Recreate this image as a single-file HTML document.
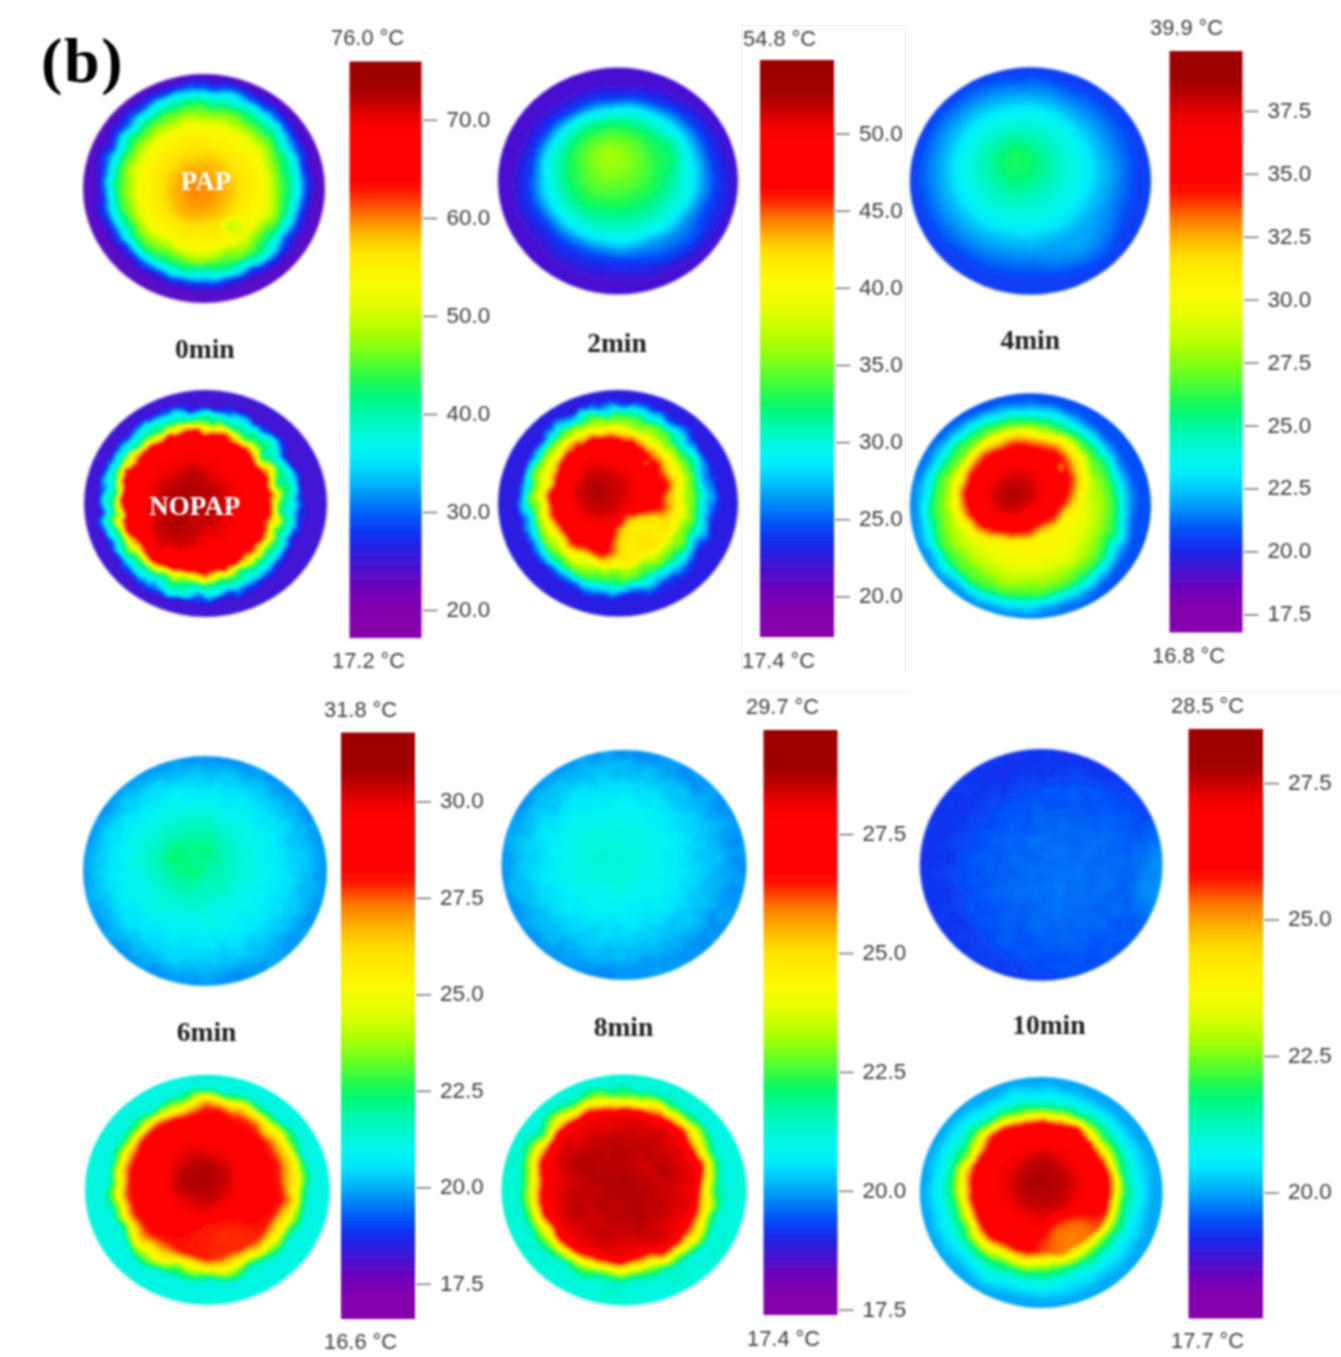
<!DOCTYPE html>
<html lang="en"><head><meta charset="utf-8"><title>Figure (b) thermal images</title>
<style>
html,body{margin:0;padding:0;background:#fff;}
body{width:1341px;height:1357px;overflow:hidden;}
svg{display:block;}
.tl{font-family:"Liberation Sans",sans-serif;font-size:22px;fill:#3c3c3c;}
.tk{stroke:#7a7a7a;stroke-width:1.6;}
.lb{font-family:"Liberation Serif",serif;font-weight:bold;font-size:64px;fill:#000;letter-spacing:1.7px;}
.tm{font-family:"Liberation Serif",serif;font-weight:bold;font-size:27.5px;fill:#222;}
.wl{font-family:"Liberation Serif",serif;font-weight:bold;font-size:27px;fill:#fff;}
</style></head><body>
<svg width="1341" height="1357" viewBox="0 0 1341 1357">
<defs>
<filter id="soft2" filterUnits="userSpaceOnUse" x="0" y="0" width="1341" height="1357"><feGaussianBlur stdDeviation="1.4"/></filter>
<filter id="soft" filterUnits="userSpaceOnUse" x="0" y="0" width="1341" height="1357"><feGaussianBlur stdDeviation="1.0"/></filter>
<linearGradient id="cb0" x1="0" y1="1" x2="0" y2="0"><stop offset="0.0000" stop-color="#8700ab"/><stop offset="0.0133" stop-color="#8600ab"/><stop offset="0.0267" stop-color="#8400ad"/><stop offset="0.0400" stop-color="#8200ae"/><stop offset="0.0534" stop-color="#7f00b0"/><stop offset="0.0667" stop-color="#7a00b3"/><stop offset="0.0801" stop-color="#7301b7"/><stop offset="0.0934" stop-color="#6804bd"/><stop offset="0.1067" stop-color="#5b09c6"/><stop offset="0.1201" stop-color="#4d0fce"/><stop offset="0.1334" stop-color="#3f15d6"/><stop offset="0.1468" stop-color="#311cde"/><stop offset="0.1601" stop-color="#2323e6"/><stop offset="0.1735" stop-color="#172ced"/><stop offset="0.1868" stop-color="#0d39f4"/><stop offset="0.1997" stop-color="#0749f7"/><stop offset="0.2125" stop-color="#035bf8"/><stop offset="0.2252" stop-color="#0170f8"/><stop offset="0.2380" stop-color="#0085f8"/><stop offset="0.2507" stop-color="#0099f8"/><stop offset="0.2635" stop-color="#00aef9"/><stop offset="0.2762" stop-color="#00c0fa"/><stop offset="0.2890" stop-color="#00d2fb"/><stop offset="0.3017" stop-color="#00e2fc"/><stop offset="0.3145" stop-color="#00eef9"/><stop offset="0.3280" stop-color="#00f4f2"/><stop offset="0.3415" stop-color="#00f6e6"/><stop offset="0.3550" stop-color="#00f7d9"/><stop offset="0.3684" stop-color="#00f8ca"/><stop offset="0.3819" stop-color="#00f8b9"/><stop offset="0.3954" stop-color="#00f8a5"/><stop offset="0.4089" stop-color="#00f88f"/><stop offset="0.4224" stop-color="#04f878"/><stop offset="0.4353" stop-color="#0ef964"/><stop offset="0.4473" stop-color="#20fb52"/><stop offset="0.4594" stop-color="#36fd43"/><stop offset="0.4714" stop-color="#4bfe35"/><stop offset="0.4834" stop-color="#60ff29"/><stop offset="0.4954" stop-color="#75ff1d"/><stop offset="0.5074" stop-color="#89ff12"/><stop offset="0.5194" stop-color="#9cff09"/><stop offset="0.5315" stop-color="#adff03"/><stop offset="0.5435" stop-color="#bcff00"/><stop offset="0.5555" stop-color="#caff00"/><stop offset="0.5675" stop-color="#d7ff00"/><stop offset="0.5795" stop-color="#e3fe00"/><stop offset="0.5915" stop-color="#ecfd00"/><stop offset="0.6036" stop-color="#f2fc00"/><stop offset="0.6156" stop-color="#f8fa00"/><stop offset="0.6276" stop-color="#fcf700"/><stop offset="0.6395" stop-color="#fef300"/><stop offset="0.6514" stop-color="#ffed00"/><stop offset="0.6633" stop-color="#ffe600"/><stop offset="0.6752" stop-color="#ffdc00"/><stop offset="0.6871" stop-color="#ffcd00"/><stop offset="0.6990" stop-color="#ffb900"/><stop offset="0.7110" stop-color="#ffa300"/><stop offset="0.7229" stop-color="#ff8c00"/><stop offset="0.7347" stop-color="#ff7400"/><stop offset="0.7466" stop-color="#ff5900"/><stop offset="0.7584" stop-color="#ff3e00"/><stop offset="0.7703" stop-color="#ff2400"/><stop offset="0.7822" stop-color="#ff0f00"/><stop offset="0.7947" stop-color="#ff0400"/><stop offset="0.8074" stop-color="#ff0000"/><stop offset="0.8202" stop-color="#ff0000"/><stop offset="0.8329" stop-color="#ff0000"/><stop offset="0.8457" stop-color="#ff0000"/><stop offset="0.8584" stop-color="#ff0000"/><stop offset="0.8712" stop-color="#fe0000"/><stop offset="0.8839" stop-color="#fb0000"/><stop offset="0.8964" stop-color="#f10000"/><stop offset="0.9087" stop-color="#e10000"/><stop offset="0.9210" stop-color="#ce0000"/><stop offset="0.9333" stop-color="#bc0000"/><stop offset="0.9456" stop-color="#ac0000"/><stop offset="0.9573" stop-color="#a20000"/><stop offset="0.9680" stop-color="#9f0000"/><stop offset="0.9786" stop-color="#9e0000"/><stop offset="0.9893" stop-color="#9e0000"/><stop offset="1.0000" stop-color="#9e0000"/></linearGradient>
<linearGradient id="cb1" x1="0" y1="1" x2="0" y2="0"><stop offset="0.0000" stop-color="#8700ab"/><stop offset="0.0126" stop-color="#8600ab"/><stop offset="0.0251" stop-color="#8400ad"/><stop offset="0.0377" stop-color="#8200ae"/><stop offset="0.0503" stop-color="#7f00b0"/><stop offset="0.0629" stop-color="#7a00b3"/><stop offset="0.0754" stop-color="#7301b7"/><stop offset="0.0880" stop-color="#6804bd"/><stop offset="0.1006" stop-color="#5b09c6"/><stop offset="0.1131" stop-color="#4d0fce"/><stop offset="0.1257" stop-color="#3f15d6"/><stop offset="0.1383" stop-color="#311cde"/><stop offset="0.1508" stop-color="#2323e6"/><stop offset="0.1634" stop-color="#172ced"/><stop offset="0.1760" stop-color="#0d39f4"/><stop offset="0.1889" stop-color="#0749f7"/><stop offset="0.2018" stop-color="#035bf8"/><stop offset="0.2148" stop-color="#0170f8"/><stop offset="0.2278" stop-color="#0085f8"/><stop offset="0.2407" stop-color="#0099f8"/><stop offset="0.2537" stop-color="#00aef9"/><stop offset="0.2667" stop-color="#00c0fa"/><stop offset="0.2797" stop-color="#00d2fb"/><stop offset="0.2926" stop-color="#00e2fc"/><stop offset="0.3056" stop-color="#00eef9"/><stop offset="0.3165" stop-color="#00f4f2"/><stop offset="0.3275" stop-color="#00f6e6"/><stop offset="0.3384" stop-color="#00f7d9"/><stop offset="0.3493" stop-color="#00f8ca"/><stop offset="0.3602" stop-color="#00f8b9"/><stop offset="0.3712" stop-color="#00f8a5"/><stop offset="0.3821" stop-color="#00f88f"/><stop offset="0.3930" stop-color="#04f878"/><stop offset="0.4048" stop-color="#0ef964"/><stop offset="0.4183" stop-color="#20fb52"/><stop offset="0.4318" stop-color="#36fd43"/><stop offset="0.4452" stop-color="#4bfe35"/><stop offset="0.4587" stop-color="#60ff29"/><stop offset="0.4722" stop-color="#75ff1d"/><stop offset="0.4856" stop-color="#89ff12"/><stop offset="0.4991" stop-color="#9cff09"/><stop offset="0.5126" stop-color="#adff03"/><stop offset="0.5260" stop-color="#bcff00"/><stop offset="0.5395" stop-color="#caff00"/><stop offset="0.5530" stop-color="#d7ff00"/><stop offset="0.5664" stop-color="#e3fe00"/><stop offset="0.5799" stop-color="#ecfd00"/><stop offset="0.5934" stop-color="#f2fc00"/><stop offset="0.6068" stop-color="#f8fa00"/><stop offset="0.6203" stop-color="#fcf700"/><stop offset="0.6324" stop-color="#fef300"/><stop offset="0.6442" stop-color="#ffed00"/><stop offset="0.6560" stop-color="#ffe600"/><stop offset="0.6678" stop-color="#ffdc00"/><stop offset="0.6796" stop-color="#ffcd00"/><stop offset="0.6914" stop-color="#ffb900"/><stop offset="0.7031" stop-color="#ffa300"/><stop offset="0.7149" stop-color="#ff8c00"/><stop offset="0.7261" stop-color="#ff7400"/><stop offset="0.7365" stop-color="#ff5900"/><stop offset="0.7468" stop-color="#ff3e00"/><stop offset="0.7572" stop-color="#ff2400"/><stop offset="0.7675" stop-color="#ff0f00"/><stop offset="0.7800" stop-color="#ff0400"/><stop offset="0.7931" stop-color="#ff0000"/><stop offset="0.8062" stop-color="#ff0000"/><stop offset="0.8193" stop-color="#ff0000"/><stop offset="0.8324" stop-color="#ff0000"/><stop offset="0.8455" stop-color="#ff0000"/><stop offset="0.8586" stop-color="#fe0000"/><stop offset="0.8718" stop-color="#fb0000"/><stop offset="0.8843" stop-color="#f10000"/><stop offset="0.8964" stop-color="#e10000"/><stop offset="0.9085" stop-color="#ce0000"/><stop offset="0.9206" stop-color="#bc0000"/><stop offset="0.9327" stop-color="#ac0000"/><stop offset="0.9455" stop-color="#a20000"/><stop offset="0.9591" stop-color="#9f0000"/><stop offset="0.9727" stop-color="#9e0000"/><stop offset="0.9864" stop-color="#9e0000"/><stop offset="1.0000" stop-color="#9e0000"/></linearGradient>
<linearGradient id="cb2" x1="0" y1="1" x2="0" y2="0"><stop offset="0.0000" stop-color="#8700ab"/><stop offset="0.0113" stop-color="#8600ab"/><stop offset="0.0226" stop-color="#8400ad"/><stop offset="0.0339" stop-color="#8200ae"/><stop offset="0.0452" stop-color="#7f00b0"/><stop offset="0.0565" stop-color="#7a00b3"/><stop offset="0.0678" stop-color="#7301b7"/><stop offset="0.0791" stop-color="#6804bd"/><stop offset="0.0904" stop-color="#5b09c6"/><stop offset="0.1018" stop-color="#4d0fce"/><stop offset="0.1131" stop-color="#3f15d6"/><stop offset="0.1244" stop-color="#311cde"/><stop offset="0.1357" stop-color="#2323e6"/><stop offset="0.1470" stop-color="#172ced"/><stop offset="0.1583" stop-color="#0d39f4"/><stop offset="0.1700" stop-color="#0749f7"/><stop offset="0.1819" stop-color="#035bf8"/><stop offset="0.1938" stop-color="#0170f8"/><stop offset="0.2057" stop-color="#0085f8"/><stop offset="0.2176" stop-color="#0099f8"/><stop offset="0.2295" stop-color="#00aef9"/><stop offset="0.2413" stop-color="#00c0fa"/><stop offset="0.2532" stop-color="#00d2fb"/><stop offset="0.2651" stop-color="#00e2fc"/><stop offset="0.2770" stop-color="#00eef9"/><stop offset="0.2894" stop-color="#00f4f2"/><stop offset="0.3018" stop-color="#00f6e6"/><stop offset="0.3142" stop-color="#00f7d9"/><stop offset="0.3265" stop-color="#00f8ca"/><stop offset="0.3389" stop-color="#00f8b9"/><stop offset="0.3513" stop-color="#00f8a5"/><stop offset="0.3637" stop-color="#00f88f"/><stop offset="0.3761" stop-color="#04f878"/><stop offset="0.3886" stop-color="#0ef964"/><stop offset="0.4013" stop-color="#20fb52"/><stop offset="0.4141" stop-color="#36fd43"/><stop offset="0.4268" stop-color="#4bfe35"/><stop offset="0.4396" stop-color="#60ff29"/><stop offset="0.4523" stop-color="#75ff1d"/><stop offset="0.4650" stop-color="#89ff12"/><stop offset="0.4778" stop-color="#9cff09"/><stop offset="0.4905" stop-color="#adff03"/><stop offset="0.5033" stop-color="#bcff00"/><stop offset="0.5160" stop-color="#caff00"/><stop offset="0.5287" stop-color="#d7ff00"/><stop offset="0.5415" stop-color="#e3fe00"/><stop offset="0.5542" stop-color="#ecfd00"/><stop offset="0.5670" stop-color="#f2fc00"/><stop offset="0.5797" stop-color="#f8fa00"/><stop offset="0.5925" stop-color="#fcf700"/><stop offset="0.6057" stop-color="#fef300"/><stop offset="0.6190" stop-color="#ffed00"/><stop offset="0.6323" stop-color="#ffe600"/><stop offset="0.6457" stop-color="#ffdc00"/><stop offset="0.6590" stop-color="#ffcd00"/><stop offset="0.6723" stop-color="#ffb900"/><stop offset="0.6857" stop-color="#ffa300"/><stop offset="0.6990" stop-color="#ff8c00"/><stop offset="0.7119" stop-color="#ff7400"/><stop offset="0.7242" stop-color="#ff5900"/><stop offset="0.7365" stop-color="#ff3e00"/><stop offset="0.7488" stop-color="#ff2400"/><stop offset="0.7611" stop-color="#ff0f00"/><stop offset="0.7741" stop-color="#ff0400"/><stop offset="0.7873" stop-color="#ff0000"/><stop offset="0.8005" stop-color="#ff0000"/><stop offset="0.8138" stop-color="#ff0000"/><stop offset="0.8270" stop-color="#ff0000"/><stop offset="0.8402" stop-color="#ff0000"/><stop offset="0.8535" stop-color="#fe0000"/><stop offset="0.8667" stop-color="#fb0000"/><stop offset="0.8805" stop-color="#f10000"/><stop offset="0.8948" stop-color="#e10000"/><stop offset="0.9090" stop-color="#ce0000"/><stop offset="0.9232" stop-color="#bc0000"/><stop offset="0.9375" stop-color="#ac0000"/><stop offset="0.9509" stop-color="#a20000"/><stop offset="0.9632" stop-color="#9f0000"/><stop offset="0.9755" stop-color="#9e0000"/><stop offset="0.9877" stop-color="#9e0000"/><stop offset="1.0000" stop-color="#9e0000"/></linearGradient>
<linearGradient id="cb3" x1="0" y1="1" x2="0" y2="0"><stop offset="0.0000" stop-color="#8700ab"/><stop offset="0.0109" stop-color="#8600ab"/><stop offset="0.0218" stop-color="#8400ad"/><stop offset="0.0327" stop-color="#8200ae"/><stop offset="0.0435" stop-color="#7f00b0"/><stop offset="0.0544" stop-color="#7a00b3"/><stop offset="0.0653" stop-color="#7301b7"/><stop offset="0.0762" stop-color="#6804bd"/><stop offset="0.0871" stop-color="#5b09c6"/><stop offset="0.0980" stop-color="#4d0fce"/><stop offset="0.1088" stop-color="#3f15d6"/><stop offset="0.1197" stop-color="#311cde"/><stop offset="0.1306" stop-color="#2323e6"/><stop offset="0.1415" stop-color="#172ced"/><stop offset="0.1524" stop-color="#0d39f4"/><stop offset="0.1640" stop-color="#0749f7"/><stop offset="0.1757" stop-color="#035bf8"/><stop offset="0.1875" stop-color="#0170f8"/><stop offset="0.1993" stop-color="#0085f8"/><stop offset="0.2111" stop-color="#0099f8"/><stop offset="0.2229" stop-color="#00aef9"/><stop offset="0.2347" stop-color="#00c0fa"/><stop offset="0.2464" stop-color="#00d2fb"/><stop offset="0.2582" stop-color="#00e2fc"/><stop offset="0.2700" stop-color="#00eef9"/><stop offset="0.2833" stop-color="#00f4f2"/><stop offset="0.2966" stop-color="#00f6e6"/><stop offset="0.3099" stop-color="#00f7d9"/><stop offset="0.3232" stop-color="#00f8ca"/><stop offset="0.3366" stop-color="#00f8b9"/><stop offset="0.3499" stop-color="#00f8a5"/><stop offset="0.3632" stop-color="#00f88f"/><stop offset="0.3765" stop-color="#04f878"/><stop offset="0.3891" stop-color="#0ef964"/><stop offset="0.4004" stop-color="#20fb52"/><stop offset="0.4118" stop-color="#36fd43"/><stop offset="0.4231" stop-color="#4bfe35"/><stop offset="0.4345" stop-color="#60ff29"/><stop offset="0.4459" stop-color="#75ff1d"/><stop offset="0.4572" stop-color="#89ff12"/><stop offset="0.4686" stop-color="#9cff09"/><stop offset="0.4799" stop-color="#adff03"/><stop offset="0.4913" stop-color="#bcff00"/><stop offset="0.5026" stop-color="#caff00"/><stop offset="0.5140" stop-color="#d7ff00"/><stop offset="0.5253" stop-color="#e3fe00"/><stop offset="0.5367" stop-color="#ecfd00"/><stop offset="0.5480" stop-color="#f2fc00"/><stop offset="0.5594" stop-color="#f8fa00"/><stop offset="0.5707" stop-color="#fcf700"/><stop offset="0.5855" stop-color="#fef300"/><stop offset="0.6011" stop-color="#ffed00"/><stop offset="0.6167" stop-color="#ffe600"/><stop offset="0.6323" stop-color="#ffdc00"/><stop offset="0.6479" stop-color="#ffcd00"/><stop offset="0.6635" stop-color="#ffb900"/><stop offset="0.6790" stop-color="#ffa300"/><stop offset="0.6946" stop-color="#ff8c00"/><stop offset="0.7082" stop-color="#ff7400"/><stop offset="0.7188" stop-color="#ff5900"/><stop offset="0.7293" stop-color="#ff3e00"/><stop offset="0.7399" stop-color="#ff2400"/><stop offset="0.7505" stop-color="#ff0f00"/><stop offset="0.7636" stop-color="#ff0400"/><stop offset="0.7776" stop-color="#ff0000"/><stop offset="0.7916" stop-color="#ff0000"/><stop offset="0.8055" stop-color="#ff0000"/><stop offset="0.8195" stop-color="#ff0000"/><stop offset="0.8335" stop-color="#ff0000"/><stop offset="0.8474" stop-color="#fe0000"/><stop offset="0.8614" stop-color="#fb0000"/><stop offset="0.8746" stop-color="#f10000"/><stop offset="0.8873" stop-color="#e10000"/><stop offset="0.9000" stop-color="#ce0000"/><stop offset="0.9127" stop-color="#bc0000"/><stop offset="0.9254" stop-color="#ac0000"/><stop offset="0.9391" stop-color="#a20000"/><stop offset="0.9543" stop-color="#9f0000"/><stop offset="0.9695" stop-color="#9e0000"/><stop offset="0.9848" stop-color="#9e0000"/><stop offset="1.0000" stop-color="#9e0000"/></linearGradient>
<linearGradient id="cb4" x1="0" y1="1" x2="0" y2="0"><stop offset="0.0000" stop-color="#8700ab"/><stop offset="0.0105" stop-color="#8600ab"/><stop offset="0.0211" stop-color="#8400ad"/><stop offset="0.0316" stop-color="#8200ae"/><stop offset="0.0421" stop-color="#7f00b0"/><stop offset="0.0527" stop-color="#7a00b3"/><stop offset="0.0632" stop-color="#7301b7"/><stop offset="0.0737" stop-color="#6804bd"/><stop offset="0.0843" stop-color="#5b09c6"/><stop offset="0.0948" stop-color="#4d0fce"/><stop offset="0.1053" stop-color="#3f15d6"/><stop offset="0.1159" stop-color="#311cde"/><stop offset="0.1264" stop-color="#2323e6"/><stop offset="0.1369" stop-color="#172ced"/><stop offset="0.1475" stop-color="#0d39f4"/><stop offset="0.1590" stop-color="#0749f7"/><stop offset="0.1707" stop-color="#035bf8"/><stop offset="0.1825" stop-color="#0170f8"/><stop offset="0.1943" stop-color="#0085f8"/><stop offset="0.2061" stop-color="#0099f8"/><stop offset="0.2179" stop-color="#00aef9"/><stop offset="0.2297" stop-color="#00c0fa"/><stop offset="0.2414" stop-color="#00d2fb"/><stop offset="0.2532" stop-color="#00e2fc"/><stop offset="0.2650" stop-color="#00eef9"/><stop offset="0.2792" stop-color="#00f4f2"/><stop offset="0.2935" stop-color="#00f6e6"/><stop offset="0.3077" stop-color="#00f7d9"/><stop offset="0.3219" stop-color="#00f8ca"/><stop offset="0.3362" stop-color="#00f8b9"/><stop offset="0.3504" stop-color="#00f8a5"/><stop offset="0.3647" stop-color="#00f88f"/><stop offset="0.3789" stop-color="#04f878"/><stop offset="0.3919" stop-color="#0ef964"/><stop offset="0.4028" stop-color="#20fb52"/><stop offset="0.4137" stop-color="#36fd43"/><stop offset="0.4245" stop-color="#4bfe35"/><stop offset="0.4354" stop-color="#60ff29"/><stop offset="0.4463" stop-color="#75ff1d"/><stop offset="0.4571" stop-color="#89ff12"/><stop offset="0.4680" stop-color="#9cff09"/><stop offset="0.4789" stop-color="#adff03"/><stop offset="0.4897" stop-color="#bcff00"/><stop offset="0.5006" stop-color="#caff00"/><stop offset="0.5115" stop-color="#d7ff00"/><stop offset="0.5223" stop-color="#e3fe00"/><stop offset="0.5332" stop-color="#ecfd00"/><stop offset="0.5441" stop-color="#f2fc00"/><stop offset="0.5550" stop-color="#f8fa00"/><stop offset="0.5658" stop-color="#fcf700"/><stop offset="0.5801" stop-color="#fef300"/><stop offset="0.5952" stop-color="#ffed00"/><stop offset="0.6103" stop-color="#ffe600"/><stop offset="0.6255" stop-color="#ffdc00"/><stop offset="0.6406" stop-color="#ffcd00"/><stop offset="0.6557" stop-color="#ffb900"/><stop offset="0.6708" stop-color="#ffa300"/><stop offset="0.6859" stop-color="#ff8c00"/><stop offset="0.6992" stop-color="#ff7400"/><stop offset="0.7098" stop-color="#ff5900"/><stop offset="0.7203" stop-color="#ff3e00"/><stop offset="0.7309" stop-color="#ff2400"/><stop offset="0.7415" stop-color="#ff0f00"/><stop offset="0.7551" stop-color="#ff0400"/><stop offset="0.7697" stop-color="#ff0000"/><stop offset="0.7843" stop-color="#ff0000"/><stop offset="0.7988" stop-color="#ff0000"/><stop offset="0.8134" stop-color="#ff0000"/><stop offset="0.8280" stop-color="#ff0000"/><stop offset="0.8426" stop-color="#fe0000"/><stop offset="0.8572" stop-color="#fb0000"/><stop offset="0.8706" stop-color="#f10000"/><stop offset="0.8833" stop-color="#e10000"/><stop offset="0.8960" stop-color="#ce0000"/><stop offset="0.9087" stop-color="#bc0000"/><stop offset="0.9214" stop-color="#ac0000"/><stop offset="0.9355" stop-color="#a20000"/><stop offset="0.9516" stop-color="#9f0000"/><stop offset="0.9677" stop-color="#9e0000"/><stop offset="0.9839" stop-color="#9e0000"/><stop offset="1.0000" stop-color="#9e0000"/></linearGradient>
<linearGradient id="cb5" x1="0" y1="1" x2="0" y2="0"><stop offset="0.0000" stop-color="#8700ab"/><stop offset="0.0106" stop-color="#8600ab"/><stop offset="0.0212" stop-color="#8400ad"/><stop offset="0.0318" stop-color="#8200ae"/><stop offset="0.0424" stop-color="#7f00b0"/><stop offset="0.0530" stop-color="#7a00b3"/><stop offset="0.0636" stop-color="#7301b7"/><stop offset="0.0742" stop-color="#6804bd"/><stop offset="0.0848" stop-color="#5b09c6"/><stop offset="0.0954" stop-color="#4d0fce"/><stop offset="0.1060" stop-color="#3f15d6"/><stop offset="0.1166" stop-color="#311cde"/><stop offset="0.1272" stop-color="#2323e6"/><stop offset="0.1379" stop-color="#172ced"/><stop offset="0.1485" stop-color="#0d39f4"/><stop offset="0.1599" stop-color="#0749f7"/><stop offset="0.1716" stop-color="#035bf8"/><stop offset="0.1832" stop-color="#0170f8"/><stop offset="0.1949" stop-color="#0085f8"/><stop offset="0.2066" stop-color="#0099f8"/><stop offset="0.2183" stop-color="#00aef9"/><stop offset="0.2300" stop-color="#00c0fa"/><stop offset="0.2416" stop-color="#00d2fb"/><stop offset="0.2533" stop-color="#00e2fc"/><stop offset="0.2650" stop-color="#00eef9"/><stop offset="0.2787" stop-color="#00f4f2"/><stop offset="0.2923" stop-color="#00f6e6"/><stop offset="0.3060" stop-color="#00f7d9"/><stop offset="0.3196" stop-color="#00f8ca"/><stop offset="0.3333" stop-color="#00f8b9"/><stop offset="0.3469" stop-color="#00f8a5"/><stop offset="0.3606" stop-color="#00f88f"/><stop offset="0.3743" stop-color="#04f878"/><stop offset="0.3870" stop-color="#0ef964"/><stop offset="0.3980" stop-color="#20fb52"/><stop offset="0.4091" stop-color="#36fd43"/><stop offset="0.4201" stop-color="#4bfe35"/><stop offset="0.4312" stop-color="#60ff29"/><stop offset="0.4422" stop-color="#75ff1d"/><stop offset="0.4533" stop-color="#89ff12"/><stop offset="0.4643" stop-color="#9cff09"/><stop offset="0.4754" stop-color="#adff03"/><stop offset="0.4864" stop-color="#bcff00"/><stop offset="0.4975" stop-color="#caff00"/><stop offset="0.5085" stop-color="#d7ff00"/><stop offset="0.5196" stop-color="#e3fe00"/><stop offset="0.5306" stop-color="#ecfd00"/><stop offset="0.5417" stop-color="#f2fc00"/><stop offset="0.5527" stop-color="#f8fa00"/><stop offset="0.5638" stop-color="#fcf700"/><stop offset="0.5788" stop-color="#fef300"/><stop offset="0.5947" stop-color="#ffed00"/><stop offset="0.6107" stop-color="#ffe600"/><stop offset="0.6266" stop-color="#ffdc00"/><stop offset="0.6426" stop-color="#ffcd00"/><stop offset="0.6585" stop-color="#ffb900"/><stop offset="0.6745" stop-color="#ffa300"/><stop offset="0.6904" stop-color="#ff8c00"/><stop offset="0.7046" stop-color="#ff7400"/><stop offset="0.7160" stop-color="#ff5900"/><stop offset="0.7274" stop-color="#ff3e00"/><stop offset="0.7388" stop-color="#ff2400"/><stop offset="0.7503" stop-color="#ff0f00"/><stop offset="0.7640" stop-color="#ff0400"/><stop offset="0.7785" stop-color="#ff0000"/><stop offset="0.7929" stop-color="#ff0000"/><stop offset="0.8074" stop-color="#ff0000"/><stop offset="0.8218" stop-color="#ff0000"/><stop offset="0.8363" stop-color="#ff0000"/><stop offset="0.8508" stop-color="#fe0000"/><stop offset="0.8652" stop-color="#fb0000"/><stop offset="0.8785" stop-color="#f10000"/><stop offset="0.8910" stop-color="#e10000"/><stop offset="0.9035" stop-color="#ce0000"/><stop offset="0.9160" stop-color="#bc0000"/><stop offset="0.9285" stop-color="#ac0000"/><stop offset="0.9418" stop-color="#a20000"/><stop offset="0.9564" stop-color="#9f0000"/><stop offset="0.9709" stop-color="#9e0000"/><stop offset="0.9855" stop-color="#9e0000"/><stop offset="1.0000" stop-color="#9e0000"/></linearGradient>
<clipPath id="cp1"><ellipse cx="204.0" cy="188.5" rx="121.0" ry="114.5"/></clipPath>
<filter id="f1" filterUnits="userSpaceOnUse" x="63.0" y="54.0" width="282.0" height="269.0" color-interpolation-filters="sRGB"><feTurbulence type="fractalNoise" baseFrequency="0.045" numOctaves="2" seed="3" result="tb"/><feDisplacementMap in="SourceGraphic" in2="tb" scale="9" xChannelSelector="R" yChannelSelector="G" result="dm"/><feComponentTransfer in="dm"><feFuncR type="table" tableValues="0.5305 0.5277 0.5241 0.5199 0.5153 0.5100 0.5031 0.4935 0.4801 0.4627 0.4410 0.4149 0.3848 0.3521 0.3177 0.2826 0.2472 0.2118 0.1773 0.1442 0.1134 0.0853 0.0611 0.0417 0.0275 0.0176 0.0105 0.0056 0.0024 0.0008 0.0002 0.0000 0.0000 0.0000 0.0000 0.0000 0.0000 0.0000 0.0000 0.0000 0.0000 0.0000 0.0000 0.0000 0.0000 0.0000 0.0000 0.0000 0.0000 0.0006 0.0034 0.0120 0.0308 0.0626 0.1062 0.1571 0.2109 0.2644 0.3166 0.3673 0.4174 0.4670 0.5164 0.5650 0.6117 0.6552 0.6948 0.7311 0.7656 0.7990 0.8315 0.8621 0.8894 0.9123 0.9311 0.9470 0.9612 0.9741 0.9849 0.9926 0.9972 0.9992 0.9999 1.0000 1.0000 1.0000 1.0000 1.0000 1.0000 1.0000 1.0000 1.0000 1.0000 1.0000 1.0000 1.0000 1.0000 1.0000 1.0000 1.0000 1.0000 1.0000 1.0000 1.0000 1.0000 1.0000 1.0000 1.0000 1.0000 0.9999 0.9986 0.9941 0.9827 0.9613 0.9294 0.8898 0.8460 0.8007 0.7558 0.7132 0.6762 0.6483 0.6311 0.6231 0.6203 0.6196 0.6196 0.6196 0.6196"/><feFuncG type="table" tableValues="0.0000 0.0000 0.0000 0.0000 0.0000 0.0000 0.0000 0.0001 0.0006 0.0024 0.0065 0.0142 0.0253 0.0388 0.0534 0.0682 0.0831 0.0983 0.1147 0.1332 0.1545 0.1793 0.2087 0.2437 0.2845 0.3299 0.3781 0.4279 0.4786 0.5299 0.5813 0.6320 0.6809 0.7276 0.7719 0.8144 0.8549 0.8917 0.9220 0.9436 0.9565 0.9635 0.9673 0.9697 0.9712 0.9721 0.9724 0.9725 0.9725 0.9726 0.9729 0.9738 0.9757 0.9790 0.9834 0.9883 0.9928 0.9964 0.9985 0.9996 0.9999 1.0000 1.0000 1.0000 1.0000 1.0000 1.0000 1.0000 1.0000 1.0000 0.9998 0.9992 0.9978 0.9955 0.9923 0.9884 0.9839 0.9787 0.9720 0.9630 0.9516 0.9384 0.9238 0.9070 0.8858 0.8572 0.8196 0.7741 0.7236 0.6707 0.6165 0.5608 0.5024 0.4407 0.3761 0.3096 0.2426 0.1769 0.1164 0.0663 0.0313 0.0116 0.0031 0.0005 0.0000 0.0000 0.0000 0.0000 0.0000 0.0000 0.0000 0.0000 0.0000 0.0000 0.0000 0.0000 0.0000 0.0000 0.0000 0.0000 0.0000 0.0000 0.0000 0.0000 0.0000 0.0000 0.0000 0.0000 0.0000"/><feFuncB type="table" tableValues="0.6688 0.6709 0.6736 0.6768 0.6801 0.6838 0.6882 0.6937 0.7011 0.7106 0.7231 0.7390 0.7581 0.7790 0.8002 0.8207 0.8402 0.8591 0.8777 0.8967 0.9158 0.9340 0.9498 0.9613 0.9682 0.9713 0.9723 0.9725 0.9725 0.9726 0.9728 0.9734 0.9747 0.9771 0.9805 0.9844 0.9874 0.9876 0.9820 0.9686 0.9475 0.9208 0.8907 0.8580 0.8225 0.7840 0.7421 0.6965 0.6465 0.5929 0.5375 0.4827 0.4308 0.3832 0.3395 0.2991 0.2613 0.2264 0.1944 0.1650 0.1370 0.1096 0.0828 0.0573 0.0349 0.0179 0.0074 0.0023 0.0005 0.0000 0.0000 0.0000 0.0000 0.0000 0.0000 0.0000 0.0000 0.0000 0.0000 0.0000 0.0000 0.0000 0.0000 0.0000 0.0000 0.0000 0.0000 0.0000 0.0000 0.0000 0.0000 0.0000 0.0000 0.0000 0.0000 0.0000 0.0000 0.0000 0.0000 0.0000 0.0000 0.0000 0.0000 0.0000 0.0000 0.0000 0.0000 0.0000 0.0000 0.0000 0.0000 0.0000 0.0000 0.0000 0.0000 0.0000 0.0000 0.0000 0.0000 0.0000 0.0000 0.0000 0.0000 0.0000 0.0000 0.0000 0.0000 0.0000 0.0000"/><feFuncA type="linear" slope="0" intercept="1"/></feComponentTransfer></filter>
<radialGradient id="g1_0" fx="0.4737" fy="0.5360"><stop offset="0.000" stop-color="#b7b7b7" stop-opacity="1.000"/><stop offset="0.120" stop-color="#b4b4b4" stop-opacity="1.000"/><stop offset="0.250" stop-color="#aeaeae" stop-opacity="1.000"/><stop offset="0.360" stop-color="#a6a6a6" stop-opacity="1.000"/><stop offset="0.460" stop-color="#a0a0a0" stop-opacity="1.000"/><stop offset="0.550" stop-color="#989898" stop-opacity="1.000"/><stop offset="0.640" stop-color="#828282" stop-opacity="1.000"/><stop offset="0.735" stop-color="#6a6a6a" stop-opacity="1.000"/><stop offset="0.825" stop-color="#4d4d4d" stop-opacity="1.000"/><stop offset="0.875" stop-color="#343434" stop-opacity="1.000"/><stop offset="0.920" stop-color="#262626" stop-opacity="1.000"/><stop offset="0.970" stop-color="#1c1c1c" stop-opacity="1.000"/><stop offset="1.000" stop-color="#1a1a1a" stop-opacity="0.000"/></radialGradient>
<radialGradient id="g1_1" fx="0.5000" fy="0.5000"><stop offset="0.000" stop-color="#858585" stop-opacity="0.900"/><stop offset="0.500" stop-color="#858585" stop-opacity="0.700"/><stop offset="1.000" stop-color="#8a8a8a" stop-opacity="0.000"/></radialGradient>
<clipPath id="cp2"><ellipse cx="205.5" cy="503.5" rx="121.5" ry="113.5"/></clipPath>
<filter id="f2" filterUnits="userSpaceOnUse" x="64.0" y="370.0" width="283.0" height="267.0" color-interpolation-filters="sRGB"><feTurbulence type="fractalNoise" baseFrequency="0.06" numOctaves="2" seed="5" result="tb"/><feDisplacementMap in="SourceGraphic" in2="tb" scale="13" xChannelSelector="R" yChannelSelector="G" result="dm"/><feComponentTransfer in="dm"><feFuncR type="table" tableValues="0.5305 0.5277 0.5241 0.5199 0.5153 0.5100 0.5031 0.4935 0.4801 0.4627 0.4410 0.4149 0.3848 0.3521 0.3177 0.2826 0.2472 0.2118 0.1773 0.1442 0.1134 0.0853 0.0611 0.0417 0.0275 0.0176 0.0105 0.0056 0.0024 0.0008 0.0002 0.0000 0.0000 0.0000 0.0000 0.0000 0.0000 0.0000 0.0000 0.0000 0.0000 0.0000 0.0000 0.0000 0.0000 0.0000 0.0000 0.0000 0.0000 0.0006 0.0034 0.0120 0.0308 0.0626 0.1062 0.1571 0.2109 0.2644 0.3166 0.3673 0.4174 0.4670 0.5164 0.5650 0.6117 0.6552 0.6948 0.7311 0.7656 0.7990 0.8315 0.8621 0.8894 0.9123 0.9311 0.9470 0.9612 0.9741 0.9849 0.9926 0.9972 0.9992 0.9999 1.0000 1.0000 1.0000 1.0000 1.0000 1.0000 1.0000 1.0000 1.0000 1.0000 1.0000 1.0000 1.0000 1.0000 1.0000 1.0000 1.0000 1.0000 1.0000 1.0000 1.0000 1.0000 1.0000 1.0000 1.0000 1.0000 0.9999 0.9986 0.9941 0.9827 0.9613 0.9294 0.8898 0.8460 0.8007 0.7558 0.7132 0.6762 0.6483 0.6311 0.6231 0.6203 0.6196 0.6196 0.6196 0.6196"/><feFuncG type="table" tableValues="0.0000 0.0000 0.0000 0.0000 0.0000 0.0000 0.0000 0.0001 0.0006 0.0024 0.0065 0.0142 0.0253 0.0388 0.0534 0.0682 0.0831 0.0983 0.1147 0.1332 0.1545 0.1793 0.2087 0.2437 0.2845 0.3299 0.3781 0.4279 0.4786 0.5299 0.5813 0.6320 0.6809 0.7276 0.7719 0.8144 0.8549 0.8917 0.9220 0.9436 0.9565 0.9635 0.9673 0.9697 0.9712 0.9721 0.9724 0.9725 0.9725 0.9726 0.9729 0.9738 0.9757 0.9790 0.9834 0.9883 0.9928 0.9964 0.9985 0.9996 0.9999 1.0000 1.0000 1.0000 1.0000 1.0000 1.0000 1.0000 1.0000 1.0000 0.9998 0.9992 0.9978 0.9955 0.9923 0.9884 0.9839 0.9787 0.9720 0.9630 0.9516 0.9384 0.9238 0.9070 0.8858 0.8572 0.8196 0.7741 0.7236 0.6707 0.6165 0.5608 0.5024 0.4407 0.3761 0.3096 0.2426 0.1769 0.1164 0.0663 0.0313 0.0116 0.0031 0.0005 0.0000 0.0000 0.0000 0.0000 0.0000 0.0000 0.0000 0.0000 0.0000 0.0000 0.0000 0.0000 0.0000 0.0000 0.0000 0.0000 0.0000 0.0000 0.0000 0.0000 0.0000 0.0000 0.0000 0.0000 0.0000"/><feFuncB type="table" tableValues="0.6688 0.6709 0.6736 0.6768 0.6801 0.6838 0.6882 0.6937 0.7011 0.7106 0.7231 0.7390 0.7581 0.7790 0.8002 0.8207 0.8402 0.8591 0.8777 0.8967 0.9158 0.9340 0.9498 0.9613 0.9682 0.9713 0.9723 0.9725 0.9725 0.9726 0.9728 0.9734 0.9747 0.9771 0.9805 0.9844 0.9874 0.9876 0.9820 0.9686 0.9475 0.9208 0.8907 0.8580 0.8225 0.7840 0.7421 0.6965 0.6465 0.5929 0.5375 0.4827 0.4308 0.3832 0.3395 0.2991 0.2613 0.2264 0.1944 0.1650 0.1370 0.1096 0.0828 0.0573 0.0349 0.0179 0.0074 0.0023 0.0005 0.0000 0.0000 0.0000 0.0000 0.0000 0.0000 0.0000 0.0000 0.0000 0.0000 0.0000 0.0000 0.0000 0.0000 0.0000 0.0000 0.0000 0.0000 0.0000 0.0000 0.0000 0.0000 0.0000 0.0000 0.0000 0.0000 0.0000 0.0000 0.0000 0.0000 0.0000 0.0000 0.0000 0.0000 0.0000 0.0000 0.0000 0.0000 0.0000 0.0000 0.0000 0.0000 0.0000 0.0000 0.0000 0.0000 0.0000 0.0000 0.0000 0.0000 0.0000 0.0000 0.0000 0.0000 0.0000 0.0000 0.0000 0.0000 0.0000 0.0000"/><feFuncA type="linear" slope="0" intercept="1"/></feComponentTransfer></filter>
<radialGradient id="g2_0" fx="0.4352" fy="0.4856"><stop offset="0.000" stop-color="#f0f0f0" stop-opacity="1.000"/><stop offset="0.250" stop-color="#ebebeb" stop-opacity="1.000"/><stop offset="0.450" stop-color="#dedede" stop-opacity="1.000"/><stop offset="0.600" stop-color="#d3d3d3" stop-opacity="1.000"/><stop offset="0.685" stop-color="#c5c5c5" stop-opacity="1.000"/><stop offset="0.730" stop-color="#9c9c9c" stop-opacity="1.000"/><stop offset="0.775" stop-color="#6f6f6f" stop-opacity="1.000"/><stop offset="0.840" stop-color="#585858" stop-opacity="1.000"/><stop offset="0.875" stop-color="#4d4d4d" stop-opacity="1.000"/><stop offset="0.925" stop-color="#2e2e2e" stop-opacity="1.000"/><stop offset="0.970" stop-color="#202020" stop-opacity="1.000"/><stop offset="1.000" stop-color="#1f1f1f" stop-opacity="0.000"/></radialGradient>
<radialGradient id="g2_1" fx="0.5000" fy="0.5000"><stop offset="0.000" stop-color="#f0f0f0" stop-opacity="0.900"/><stop offset="0.600" stop-color="#ebebeb" stop-opacity="0.600"/><stop offset="1.000" stop-color="#e3e3e3" stop-opacity="0.000"/></radialGradient>
<clipPath id="cp3"><ellipse cx="618.0" cy="181.0" rx="120.0" ry="113.5"/></clipPath>
<filter id="f3" filterUnits="userSpaceOnUse" x="478.0" y="47.5" width="280.0" height="267.0" color-interpolation-filters="sRGB"><feTurbulence type="fractalNoise" baseFrequency="0.02" numOctaves="2" seed="7" result="tb"/><feDisplacementMap in="SourceGraphic" in2="tb" scale="8" xChannelSelector="R" yChannelSelector="G" result="dm"/><feComponentTransfer in="dm"><feFuncR type="table" tableValues="0.5305 0.5277 0.5241 0.5199 0.5153 0.5100 0.5031 0.4935 0.4801 0.4627 0.4410 0.4149 0.3848 0.3521 0.3177 0.2826 0.2472 0.2118 0.1773 0.1442 0.1134 0.0853 0.0611 0.0417 0.0275 0.0176 0.0105 0.0056 0.0024 0.0008 0.0002 0.0000 0.0000 0.0000 0.0000 0.0000 0.0000 0.0000 0.0000 0.0000 0.0000 0.0000 0.0000 0.0000 0.0000 0.0000 0.0000 0.0000 0.0000 0.0006 0.0034 0.0120 0.0308 0.0626 0.1062 0.1571 0.2109 0.2644 0.3166 0.3673 0.4174 0.4670 0.5164 0.5650 0.6117 0.6552 0.6948 0.7311 0.7656 0.7990 0.8315 0.8621 0.8894 0.9123 0.9311 0.9470 0.9612 0.9741 0.9849 0.9926 0.9972 0.9992 0.9999 1.0000 1.0000 1.0000 1.0000 1.0000 1.0000 1.0000 1.0000 1.0000 1.0000 1.0000 1.0000 1.0000 1.0000 1.0000 1.0000 1.0000 1.0000 1.0000 1.0000 1.0000 1.0000 1.0000 1.0000 1.0000 1.0000 0.9999 0.9986 0.9941 0.9827 0.9613 0.9294 0.8898 0.8460 0.8007 0.7558 0.7132 0.6762 0.6483 0.6311 0.6231 0.6203 0.6196 0.6196 0.6196 0.6196"/><feFuncG type="table" tableValues="0.0000 0.0000 0.0000 0.0000 0.0000 0.0000 0.0000 0.0001 0.0006 0.0024 0.0065 0.0142 0.0253 0.0388 0.0534 0.0682 0.0831 0.0983 0.1147 0.1332 0.1545 0.1793 0.2087 0.2437 0.2845 0.3299 0.3781 0.4279 0.4786 0.5299 0.5813 0.6320 0.6809 0.7276 0.7719 0.8144 0.8549 0.8917 0.9220 0.9436 0.9565 0.9635 0.9673 0.9697 0.9712 0.9721 0.9724 0.9725 0.9725 0.9726 0.9729 0.9738 0.9757 0.9790 0.9834 0.9883 0.9928 0.9964 0.9985 0.9996 0.9999 1.0000 1.0000 1.0000 1.0000 1.0000 1.0000 1.0000 1.0000 1.0000 0.9998 0.9992 0.9978 0.9955 0.9923 0.9884 0.9839 0.9787 0.9720 0.9630 0.9516 0.9384 0.9238 0.9070 0.8858 0.8572 0.8196 0.7741 0.7236 0.6707 0.6165 0.5608 0.5024 0.4407 0.3761 0.3096 0.2426 0.1769 0.1164 0.0663 0.0313 0.0116 0.0031 0.0005 0.0000 0.0000 0.0000 0.0000 0.0000 0.0000 0.0000 0.0000 0.0000 0.0000 0.0000 0.0000 0.0000 0.0000 0.0000 0.0000 0.0000 0.0000 0.0000 0.0000 0.0000 0.0000 0.0000 0.0000 0.0000"/><feFuncB type="table" tableValues="0.6688 0.6709 0.6736 0.6768 0.6801 0.6838 0.6882 0.6937 0.7011 0.7106 0.7231 0.7390 0.7581 0.7790 0.8002 0.8207 0.8402 0.8591 0.8777 0.8967 0.9158 0.9340 0.9498 0.9613 0.9682 0.9713 0.9723 0.9725 0.9725 0.9726 0.9728 0.9734 0.9747 0.9771 0.9805 0.9844 0.9874 0.9876 0.9820 0.9686 0.9475 0.9208 0.8907 0.8580 0.8225 0.7840 0.7421 0.6965 0.6465 0.5929 0.5375 0.4827 0.4308 0.3832 0.3395 0.2991 0.2613 0.2264 0.1944 0.1650 0.1370 0.1096 0.0828 0.0573 0.0349 0.0179 0.0074 0.0023 0.0005 0.0000 0.0000 0.0000 0.0000 0.0000 0.0000 0.0000 0.0000 0.0000 0.0000 0.0000 0.0000 0.0000 0.0000 0.0000 0.0000 0.0000 0.0000 0.0000 0.0000 0.0000 0.0000 0.0000 0.0000 0.0000 0.0000 0.0000 0.0000 0.0000 0.0000 0.0000 0.0000 0.0000 0.0000 0.0000 0.0000 0.0000 0.0000 0.0000 0.0000 0.0000 0.0000 0.0000 0.0000 0.0000 0.0000 0.0000 0.0000 0.0000 0.0000 0.0000 0.0000 0.0000 0.0000 0.0000 0.0000 0.0000 0.0000 0.0000 0.0000"/><feFuncA type="linear" slope="0" intercept="1"/></feComponentTransfer></filter>
<radialGradient id="g3_0" fx="0.4267" fy="0.3627"><stop offset="0.000" stop-color="#828282" stop-opacity="1.000"/><stop offset="0.120" stop-color="#7e7e7e" stop-opacity="1.000"/><stop offset="0.250" stop-color="#757575" stop-opacity="1.000"/><stop offset="0.400" stop-color="#6a6a6a" stop-opacity="1.000"/><stop offset="0.520" stop-color="#5d5d5d" stop-opacity="1.000"/><stop offset="0.640" stop-color="#4d4d4d" stop-opacity="1.000"/><stop offset="0.720" stop-color="#3c3c3c" stop-opacity="1.000"/><stop offset="0.800" stop-color="#2e2e2e" stop-opacity="1.000"/><stop offset="0.900" stop-color="#252525" stop-opacity="1.000"/><stop offset="1.000" stop-color="#1e1e1e" stop-opacity="0.000"/></radialGradient>
<radialGradient id="g3_1" fx="0.5000" fy="0.5000"><stop offset="0.000" stop-color="#6b6b6b" stop-opacity="1.000"/><stop offset="0.450" stop-color="#6a6a6a" stop-opacity="0.850"/><stop offset="1.000" stop-color="#676767" stop-opacity="0.000"/></radialGradient>
<radialGradient id="g3_2" fx="0.5000" fy="0.5000"><stop offset="0.000" stop-color="#3c3c3c" stop-opacity="0.900"/><stop offset="0.400" stop-color="#3c3c3c" stop-opacity="0.600"/><stop offset="1.000" stop-color="#3c3c3c" stop-opacity="0.000"/></radialGradient>
<clipPath id="cp4"><ellipse cx="618.0" cy="503.3" rx="120.0" ry="113.3"/></clipPath>
<filter id="f4" filterUnits="userSpaceOnUse" x="478.0" y="370.0" width="280.0" height="266.6" color-interpolation-filters="sRGB"><feTurbulence type="fractalNoise" baseFrequency="0.055" numOctaves="2" seed="9" result="tb"/><feDisplacementMap in="SourceGraphic" in2="tb" scale="11" xChannelSelector="R" yChannelSelector="G" result="dm"/><feComponentTransfer in="dm"><feFuncR type="table" tableValues="0.5305 0.5277 0.5241 0.5199 0.5153 0.5100 0.5031 0.4935 0.4801 0.4627 0.4410 0.4149 0.3848 0.3521 0.3177 0.2826 0.2472 0.2118 0.1773 0.1442 0.1134 0.0853 0.0611 0.0417 0.0275 0.0176 0.0105 0.0056 0.0024 0.0008 0.0002 0.0000 0.0000 0.0000 0.0000 0.0000 0.0000 0.0000 0.0000 0.0000 0.0000 0.0000 0.0000 0.0000 0.0000 0.0000 0.0000 0.0000 0.0000 0.0006 0.0034 0.0120 0.0308 0.0626 0.1062 0.1571 0.2109 0.2644 0.3166 0.3673 0.4174 0.4670 0.5164 0.5650 0.6117 0.6552 0.6948 0.7311 0.7656 0.7990 0.8315 0.8621 0.8894 0.9123 0.9311 0.9470 0.9612 0.9741 0.9849 0.9926 0.9972 0.9992 0.9999 1.0000 1.0000 1.0000 1.0000 1.0000 1.0000 1.0000 1.0000 1.0000 1.0000 1.0000 1.0000 1.0000 1.0000 1.0000 1.0000 1.0000 1.0000 1.0000 1.0000 1.0000 1.0000 1.0000 1.0000 1.0000 1.0000 0.9999 0.9986 0.9941 0.9827 0.9613 0.9294 0.8898 0.8460 0.8007 0.7558 0.7132 0.6762 0.6483 0.6311 0.6231 0.6203 0.6196 0.6196 0.6196 0.6196"/><feFuncG type="table" tableValues="0.0000 0.0000 0.0000 0.0000 0.0000 0.0000 0.0000 0.0001 0.0006 0.0024 0.0065 0.0142 0.0253 0.0388 0.0534 0.0682 0.0831 0.0983 0.1147 0.1332 0.1545 0.1793 0.2087 0.2437 0.2845 0.3299 0.3781 0.4279 0.4786 0.5299 0.5813 0.6320 0.6809 0.7276 0.7719 0.8144 0.8549 0.8917 0.9220 0.9436 0.9565 0.9635 0.9673 0.9697 0.9712 0.9721 0.9724 0.9725 0.9725 0.9726 0.9729 0.9738 0.9757 0.9790 0.9834 0.9883 0.9928 0.9964 0.9985 0.9996 0.9999 1.0000 1.0000 1.0000 1.0000 1.0000 1.0000 1.0000 1.0000 1.0000 0.9998 0.9992 0.9978 0.9955 0.9923 0.9884 0.9839 0.9787 0.9720 0.9630 0.9516 0.9384 0.9238 0.9070 0.8858 0.8572 0.8196 0.7741 0.7236 0.6707 0.6165 0.5608 0.5024 0.4407 0.3761 0.3096 0.2426 0.1769 0.1164 0.0663 0.0313 0.0116 0.0031 0.0005 0.0000 0.0000 0.0000 0.0000 0.0000 0.0000 0.0000 0.0000 0.0000 0.0000 0.0000 0.0000 0.0000 0.0000 0.0000 0.0000 0.0000 0.0000 0.0000 0.0000 0.0000 0.0000 0.0000 0.0000 0.0000"/><feFuncB type="table" tableValues="0.6688 0.6709 0.6736 0.6768 0.6801 0.6838 0.6882 0.6937 0.7011 0.7106 0.7231 0.7390 0.7581 0.7790 0.8002 0.8207 0.8402 0.8591 0.8777 0.8967 0.9158 0.9340 0.9498 0.9613 0.9682 0.9713 0.9723 0.9725 0.9725 0.9726 0.9728 0.9734 0.9747 0.9771 0.9805 0.9844 0.9874 0.9876 0.9820 0.9686 0.9475 0.9208 0.8907 0.8580 0.8225 0.7840 0.7421 0.6965 0.6465 0.5929 0.5375 0.4827 0.4308 0.3832 0.3395 0.2991 0.2613 0.2264 0.1944 0.1650 0.1370 0.1096 0.0828 0.0573 0.0349 0.0179 0.0074 0.0023 0.0005 0.0000 0.0000 0.0000 0.0000 0.0000 0.0000 0.0000 0.0000 0.0000 0.0000 0.0000 0.0000 0.0000 0.0000 0.0000 0.0000 0.0000 0.0000 0.0000 0.0000 0.0000 0.0000 0.0000 0.0000 0.0000 0.0000 0.0000 0.0000 0.0000 0.0000 0.0000 0.0000 0.0000 0.0000 0.0000 0.0000 0.0000 0.0000 0.0000 0.0000 0.0000 0.0000 0.0000 0.0000 0.0000 0.0000 0.0000 0.0000 0.0000 0.0000 0.0000 0.0000 0.0000 0.0000 0.0000 0.0000 0.0000 0.0000 0.0000 0.0000"/><feFuncA type="linear" slope="0" intercept="1"/></feComponentTransfer></filter>
<radialGradient id="g4_0" fx="0.3932" fy="0.4515"><stop offset="0.000" stop-color="#f0f0f0" stop-opacity="1.000"/><stop offset="0.200" stop-color="#e8e8e8" stop-opacity="1.000"/><stop offset="0.400" stop-color="#d8d8d8" stop-opacity="1.000"/><stop offset="0.555" stop-color="#c5c5c5" stop-opacity="1.000"/><stop offset="0.610" stop-color="#aeaeae" stop-opacity="1.000"/><stop offset="0.660" stop-color="#9c9c9c" stop-opacity="1.000"/><stop offset="0.730" stop-color="#828282" stop-opacity="1.000"/><stop offset="0.800" stop-color="#6f6f6f" stop-opacity="1.000"/><stop offset="0.870" stop-color="#4d4d4d" stop-opacity="1.000"/><stop offset="0.930" stop-color="#343434" stop-opacity="1.000"/><stop offset="1.000" stop-color="#242424" stop-opacity="0.000"/></radialGradient>
<radialGradient id="g4_1" fx="0.5000" fy="0.5000"><stop offset="0.000" stop-color="#a8a8a8" stop-opacity="1.000"/><stop offset="0.450" stop-color="#a1a1a1" stop-opacity="1.000"/><stop offset="0.700" stop-color="#9f9f9f" stop-opacity="0.750"/><stop offset="1.000" stop-color="#9f9f9f" stop-opacity="0.000"/></radialGradient>
<radialGradient id="g4_2" fx="0.5000" fy="0.5000"><stop offset="0.000" stop-color="#bcbcbc" stop-opacity="0.900"/><stop offset="1.000" stop-color="#c3c3c3" stop-opacity="0.000"/></radialGradient>
<clipPath id="cp5"><ellipse cx="1030.4" cy="181.0" rx="120.6" ry="113.8"/></clipPath>
<filter id="f5" filterUnits="userSpaceOnUse" x="889.8" y="47.2" width="281.2" height="267.6" color-interpolation-filters="sRGB"><feTurbulence type="fractalNoise" baseFrequency="0.02" numOctaves="2" seed="11" result="tb"/><feDisplacementMap in="SourceGraphic" in2="tb" scale="6" xChannelSelector="R" yChannelSelector="G" result="dm"/><feComponentTransfer in="dm"><feFuncR type="table" tableValues="0.5305 0.5277 0.5241 0.5199 0.5153 0.5100 0.5031 0.4935 0.4801 0.4627 0.4410 0.4149 0.3848 0.3521 0.3177 0.2826 0.2472 0.2118 0.1773 0.1442 0.1134 0.0853 0.0611 0.0417 0.0275 0.0176 0.0105 0.0056 0.0024 0.0008 0.0002 0.0000 0.0000 0.0000 0.0000 0.0000 0.0000 0.0000 0.0000 0.0000 0.0000 0.0000 0.0000 0.0000 0.0000 0.0000 0.0000 0.0000 0.0000 0.0006 0.0034 0.0120 0.0308 0.0626 0.1062 0.1571 0.2109 0.2644 0.3166 0.3673 0.4174 0.4670 0.5164 0.5650 0.6117 0.6552 0.6948 0.7311 0.7656 0.7990 0.8315 0.8621 0.8894 0.9123 0.9311 0.9470 0.9612 0.9741 0.9849 0.9926 0.9972 0.9992 0.9999 1.0000 1.0000 1.0000 1.0000 1.0000 1.0000 1.0000 1.0000 1.0000 1.0000 1.0000 1.0000 1.0000 1.0000 1.0000 1.0000 1.0000 1.0000 1.0000 1.0000 1.0000 1.0000 1.0000 1.0000 1.0000 1.0000 0.9999 0.9986 0.9941 0.9827 0.9613 0.9294 0.8898 0.8460 0.8007 0.7558 0.7132 0.6762 0.6483 0.6311 0.6231 0.6203 0.6196 0.6196 0.6196 0.6196"/><feFuncG type="table" tableValues="0.0000 0.0000 0.0000 0.0000 0.0000 0.0000 0.0000 0.0001 0.0006 0.0024 0.0065 0.0142 0.0253 0.0388 0.0534 0.0682 0.0831 0.0983 0.1147 0.1332 0.1545 0.1793 0.2087 0.2437 0.2845 0.3299 0.3781 0.4279 0.4786 0.5299 0.5813 0.6320 0.6809 0.7276 0.7719 0.8144 0.8549 0.8917 0.9220 0.9436 0.9565 0.9635 0.9673 0.9697 0.9712 0.9721 0.9724 0.9725 0.9725 0.9726 0.9729 0.9738 0.9757 0.9790 0.9834 0.9883 0.9928 0.9964 0.9985 0.9996 0.9999 1.0000 1.0000 1.0000 1.0000 1.0000 1.0000 1.0000 1.0000 1.0000 0.9998 0.9992 0.9978 0.9955 0.9923 0.9884 0.9839 0.9787 0.9720 0.9630 0.9516 0.9384 0.9238 0.9070 0.8858 0.8572 0.8196 0.7741 0.7236 0.6707 0.6165 0.5608 0.5024 0.4407 0.3761 0.3096 0.2426 0.1769 0.1164 0.0663 0.0313 0.0116 0.0031 0.0005 0.0000 0.0000 0.0000 0.0000 0.0000 0.0000 0.0000 0.0000 0.0000 0.0000 0.0000 0.0000 0.0000 0.0000 0.0000 0.0000 0.0000 0.0000 0.0000 0.0000 0.0000 0.0000 0.0000 0.0000 0.0000"/><feFuncB type="table" tableValues="0.6688 0.6709 0.6736 0.6768 0.6801 0.6838 0.6882 0.6937 0.7011 0.7106 0.7231 0.7390 0.7581 0.7790 0.8002 0.8207 0.8402 0.8591 0.8777 0.8967 0.9158 0.9340 0.9498 0.9613 0.9682 0.9713 0.9723 0.9725 0.9725 0.9726 0.9728 0.9734 0.9747 0.9771 0.9805 0.9844 0.9874 0.9876 0.9820 0.9686 0.9475 0.9208 0.8907 0.8580 0.8225 0.7840 0.7421 0.6965 0.6465 0.5929 0.5375 0.4827 0.4308 0.3832 0.3395 0.2991 0.2613 0.2264 0.1944 0.1650 0.1370 0.1096 0.0828 0.0573 0.0349 0.0179 0.0074 0.0023 0.0005 0.0000 0.0000 0.0000 0.0000 0.0000 0.0000 0.0000 0.0000 0.0000 0.0000 0.0000 0.0000 0.0000 0.0000 0.0000 0.0000 0.0000 0.0000 0.0000 0.0000 0.0000 0.0000 0.0000 0.0000 0.0000 0.0000 0.0000 0.0000 0.0000 0.0000 0.0000 0.0000 0.0000 0.0000 0.0000 0.0000 0.0000 0.0000 0.0000 0.0000 0.0000 0.0000 0.0000 0.0000 0.0000 0.0000 0.0000 0.0000 0.0000 0.0000 0.0000 0.0000 0.0000 0.0000 0.0000 0.0000 0.0000 0.0000 0.0000 0.0000"/><feFuncA type="linear" slope="0" intercept="1"/></feComponentTransfer></filter>
<radialGradient id="g5_0" fx="0.4478" fy="0.4286"><stop offset="0.000" stop-color="#6b6b6b" stop-opacity="1.000"/><stop offset="0.120" stop-color="#686868" stop-opacity="1.000"/><stop offset="0.300" stop-color="#5d5d5d" stop-opacity="1.000"/><stop offset="0.450" stop-color="#545454" stop-opacity="1.000"/><stop offset="0.570" stop-color="#4d4d4d" stop-opacity="1.000"/><stop offset="0.660" stop-color="#444444" stop-opacity="1.000"/><stop offset="0.760" stop-color="#3d3d3d" stop-opacity="1.000"/><stop offset="0.860" stop-color="#363636" stop-opacity="1.000"/><stop offset="0.950" stop-color="#303030" stop-opacity="1.000"/><stop offset="1.000" stop-color="#2e2e2e" stop-opacity="0.000"/></radialGradient>
<radialGradient id="g5_1" fx="0.5000" fy="0.5000"><stop offset="0.000" stop-color="#404040" stop-opacity="0.900"/><stop offset="0.400" stop-color="#404040" stop-opacity="0.600"/><stop offset="1.000" stop-color="#404040" stop-opacity="0.000"/></radialGradient>
<clipPath id="cp6"><ellipse cx="1030.4" cy="506.0" rx="120.6" ry="112.7"/></clipPath>
<filter id="f6" filterUnits="userSpaceOnUse" x="889.8" y="373.3" width="281.2" height="265.4" color-interpolation-filters="sRGB"><feTurbulence type="fractalNoise" baseFrequency="0.04" numOctaves="2" seed="13" result="tb"/><feDisplacementMap in="SourceGraphic" in2="tb" scale="8" xChannelSelector="R" yChannelSelector="G" result="dm"/><feComponentTransfer in="dm"><feFuncR type="table" tableValues="0.5305 0.5277 0.5241 0.5199 0.5153 0.5100 0.5031 0.4935 0.4801 0.4627 0.4410 0.4149 0.3848 0.3521 0.3177 0.2826 0.2472 0.2118 0.1773 0.1442 0.1134 0.0853 0.0611 0.0417 0.0275 0.0176 0.0105 0.0056 0.0024 0.0008 0.0002 0.0000 0.0000 0.0000 0.0000 0.0000 0.0000 0.0000 0.0000 0.0000 0.0000 0.0000 0.0000 0.0000 0.0000 0.0000 0.0000 0.0000 0.0000 0.0006 0.0034 0.0120 0.0308 0.0626 0.1062 0.1571 0.2109 0.2644 0.3166 0.3673 0.4174 0.4670 0.5164 0.5650 0.6117 0.6552 0.6948 0.7311 0.7656 0.7990 0.8315 0.8621 0.8894 0.9123 0.9311 0.9470 0.9612 0.9741 0.9849 0.9926 0.9972 0.9992 0.9999 1.0000 1.0000 1.0000 1.0000 1.0000 1.0000 1.0000 1.0000 1.0000 1.0000 1.0000 1.0000 1.0000 1.0000 1.0000 1.0000 1.0000 1.0000 1.0000 1.0000 1.0000 1.0000 1.0000 1.0000 1.0000 1.0000 0.9999 0.9986 0.9941 0.9827 0.9613 0.9294 0.8898 0.8460 0.8007 0.7558 0.7132 0.6762 0.6483 0.6311 0.6231 0.6203 0.6196 0.6196 0.6196 0.6196"/><feFuncG type="table" tableValues="0.0000 0.0000 0.0000 0.0000 0.0000 0.0000 0.0000 0.0001 0.0006 0.0024 0.0065 0.0142 0.0253 0.0388 0.0534 0.0682 0.0831 0.0983 0.1147 0.1332 0.1545 0.1793 0.2087 0.2437 0.2845 0.3299 0.3781 0.4279 0.4786 0.5299 0.5813 0.6320 0.6809 0.7276 0.7719 0.8144 0.8549 0.8917 0.9220 0.9436 0.9565 0.9635 0.9673 0.9697 0.9712 0.9721 0.9724 0.9725 0.9725 0.9726 0.9729 0.9738 0.9757 0.9790 0.9834 0.9883 0.9928 0.9964 0.9985 0.9996 0.9999 1.0000 1.0000 1.0000 1.0000 1.0000 1.0000 1.0000 1.0000 1.0000 0.9998 0.9992 0.9978 0.9955 0.9923 0.9884 0.9839 0.9787 0.9720 0.9630 0.9516 0.9384 0.9238 0.9070 0.8858 0.8572 0.8196 0.7741 0.7236 0.6707 0.6165 0.5608 0.5024 0.4407 0.3761 0.3096 0.2426 0.1769 0.1164 0.0663 0.0313 0.0116 0.0031 0.0005 0.0000 0.0000 0.0000 0.0000 0.0000 0.0000 0.0000 0.0000 0.0000 0.0000 0.0000 0.0000 0.0000 0.0000 0.0000 0.0000 0.0000 0.0000 0.0000 0.0000 0.0000 0.0000 0.0000 0.0000 0.0000"/><feFuncB type="table" tableValues="0.6688 0.6709 0.6736 0.6768 0.6801 0.6838 0.6882 0.6937 0.7011 0.7106 0.7231 0.7390 0.7581 0.7790 0.8002 0.8207 0.8402 0.8591 0.8777 0.8967 0.9158 0.9340 0.9498 0.9613 0.9682 0.9713 0.9723 0.9725 0.9725 0.9726 0.9728 0.9734 0.9747 0.9771 0.9805 0.9844 0.9874 0.9876 0.9820 0.9686 0.9475 0.9208 0.8907 0.8580 0.8225 0.7840 0.7421 0.6965 0.6465 0.5929 0.5375 0.4827 0.4308 0.3832 0.3395 0.2991 0.2613 0.2264 0.1944 0.1650 0.1370 0.1096 0.0828 0.0573 0.0349 0.0179 0.0074 0.0023 0.0005 0.0000 0.0000 0.0000 0.0000 0.0000 0.0000 0.0000 0.0000 0.0000 0.0000 0.0000 0.0000 0.0000 0.0000 0.0000 0.0000 0.0000 0.0000 0.0000 0.0000 0.0000 0.0000 0.0000 0.0000 0.0000 0.0000 0.0000 0.0000 0.0000 0.0000 0.0000 0.0000 0.0000 0.0000 0.0000 0.0000 0.0000 0.0000 0.0000 0.0000 0.0000 0.0000 0.0000 0.0000 0.0000 0.0000 0.0000 0.0000 0.0000 0.0000 0.0000 0.0000 0.0000 0.0000 0.0000 0.0000 0.0000 0.0000 0.0000 0.0000"/><feFuncA type="linear" slope="0" intercept="1"/></feComponentTransfer></filter>
<radialGradient id="g6_0" fx="0.5000" fy="0.5000"><stop offset="0.000" stop-color="#404040" stop-opacity="1.000"/><stop offset="0.450" stop-color="#3c3c3c" stop-opacity="1.000"/><stop offset="0.800" stop-color="#323232" stop-opacity="1.000"/><stop offset="1.000" stop-color="#313131" stop-opacity="1.000"/></radialGradient>
<radialGradient id="g6_1" fx="0.5000" fy="0.5000"><stop offset="0.000" stop-color="#989898" stop-opacity="1.000"/><stop offset="0.400" stop-color="#929292" stop-opacity="1.000"/><stop offset="0.550" stop-color="#8d8d8d" stop-opacity="1.000"/><stop offset="0.660" stop-color="#828282" stop-opacity="1.000"/><stop offset="0.780" stop-color="#6f6f6f" stop-opacity="1.000"/><stop offset="0.870" stop-color="#4d4d4d" stop-opacity="1.000"/><stop offset="0.930" stop-color="#3f3f3f" stop-opacity="0.800"/><stop offset="1.000" stop-color="#343434" stop-opacity="0.000"/></radialGradient>
<radialGradient id="g6_2" fx="0.5000" fy="0.5000"><stop offset="0.000" stop-color="#9e9e9e" stop-opacity="1.000"/><stop offset="0.600" stop-color="#9c9c9c" stop-opacity="0.900"/><stop offset="1.000" stop-color="#929292" stop-opacity="0.000"/></radialGradient>
<radialGradient id="g6_3" fx="0.4342" fy="0.5246"><stop offset="0.000" stop-color="#f0f0f0" stop-opacity="1.000"/><stop offset="0.250" stop-color="#e8e8e8" stop-opacity="1.000"/><stop offset="0.500" stop-color="#d8d8d8" stop-opacity="1.000"/><stop offset="0.700" stop-color="#c5c5c5" stop-opacity="1.000"/><stop offset="0.800" stop-color="#aeaeae" stop-opacity="1.000"/><stop offset="0.900" stop-color="#9e9e9e" stop-opacity="0.700"/><stop offset="1.000" stop-color="#989898" stop-opacity="0.000"/></radialGradient>
<radialGradient id="g6_4" fx="0.5000" fy="0.5000"><stop offset="0.000" stop-color="#b4b4b4" stop-opacity="0.900"/><stop offset="1.000" stop-color="#bcbcbc" stop-opacity="0.000"/></radialGradient>
<clipPath id="cp7"><ellipse cx="205.0" cy="871.0" rx="122.0" ry="115.0"/></clipPath>
<filter id="f7" filterUnits="userSpaceOnUse" x="63.0" y="736.0" width="284.0" height="270.0" color-interpolation-filters="sRGB"><feTurbulence type="fractalNoise" baseFrequency="0.03" numOctaves="2" seed="15" result="tb"/><feDisplacementMap in="SourceGraphic" in2="tb" scale="4" xChannelSelector="R" yChannelSelector="G" result="dm"/><feTurbulence type="fractalNoise" baseFrequency="0.06" numOctaves="2" seed="22" result="nz"/><feColorMatrix in="nz" type="matrix" values="1 0 0 0 0  1 0 0 0 0  1 0 0 0 0  0 0 0 0 1" result="nzg"/><feComposite in="dm" in2="nzg" operator="arithmetic" k1="0" k2="1" k3="0.03" k4="-0.015" result="ad"/><feComponentTransfer in="ad"><feFuncR type="table" tableValues="0.5305 0.5277 0.5241 0.5199 0.5153 0.5100 0.5031 0.4935 0.4801 0.4627 0.4410 0.4149 0.3848 0.3521 0.3177 0.2826 0.2472 0.2118 0.1773 0.1442 0.1134 0.0853 0.0611 0.0417 0.0275 0.0176 0.0105 0.0056 0.0024 0.0008 0.0002 0.0000 0.0000 0.0000 0.0000 0.0000 0.0000 0.0000 0.0000 0.0000 0.0000 0.0000 0.0000 0.0000 0.0000 0.0000 0.0000 0.0000 0.0000 0.0006 0.0034 0.0120 0.0308 0.0626 0.1062 0.1571 0.2109 0.2644 0.3166 0.3673 0.4174 0.4670 0.5164 0.5650 0.6117 0.6552 0.6948 0.7311 0.7656 0.7990 0.8315 0.8621 0.8894 0.9123 0.9311 0.9470 0.9612 0.9741 0.9849 0.9926 0.9972 0.9992 0.9999 1.0000 1.0000 1.0000 1.0000 1.0000 1.0000 1.0000 1.0000 1.0000 1.0000 1.0000 1.0000 1.0000 1.0000 1.0000 1.0000 1.0000 1.0000 1.0000 1.0000 1.0000 1.0000 1.0000 1.0000 1.0000 1.0000 0.9999 0.9986 0.9941 0.9827 0.9613 0.9294 0.8898 0.8460 0.8007 0.7558 0.7132 0.6762 0.6483 0.6311 0.6231 0.6203 0.6196 0.6196 0.6196 0.6196"/><feFuncG type="table" tableValues="0.0000 0.0000 0.0000 0.0000 0.0000 0.0000 0.0000 0.0001 0.0006 0.0024 0.0065 0.0142 0.0253 0.0388 0.0534 0.0682 0.0831 0.0983 0.1147 0.1332 0.1545 0.1793 0.2087 0.2437 0.2845 0.3299 0.3781 0.4279 0.4786 0.5299 0.5813 0.6320 0.6809 0.7276 0.7719 0.8144 0.8549 0.8917 0.9220 0.9436 0.9565 0.9635 0.9673 0.9697 0.9712 0.9721 0.9724 0.9725 0.9725 0.9726 0.9729 0.9738 0.9757 0.9790 0.9834 0.9883 0.9928 0.9964 0.9985 0.9996 0.9999 1.0000 1.0000 1.0000 1.0000 1.0000 1.0000 1.0000 1.0000 1.0000 0.9998 0.9992 0.9978 0.9955 0.9923 0.9884 0.9839 0.9787 0.9720 0.9630 0.9516 0.9384 0.9238 0.9070 0.8858 0.8572 0.8196 0.7741 0.7236 0.6707 0.6165 0.5608 0.5024 0.4407 0.3761 0.3096 0.2426 0.1769 0.1164 0.0663 0.0313 0.0116 0.0031 0.0005 0.0000 0.0000 0.0000 0.0000 0.0000 0.0000 0.0000 0.0000 0.0000 0.0000 0.0000 0.0000 0.0000 0.0000 0.0000 0.0000 0.0000 0.0000 0.0000 0.0000 0.0000 0.0000 0.0000 0.0000 0.0000"/><feFuncB type="table" tableValues="0.6688 0.6709 0.6736 0.6768 0.6801 0.6838 0.6882 0.6937 0.7011 0.7106 0.7231 0.7390 0.7581 0.7790 0.8002 0.8207 0.8402 0.8591 0.8777 0.8967 0.9158 0.9340 0.9498 0.9613 0.9682 0.9713 0.9723 0.9725 0.9725 0.9726 0.9728 0.9734 0.9747 0.9771 0.9805 0.9844 0.9874 0.9876 0.9820 0.9686 0.9475 0.9208 0.8907 0.8580 0.8225 0.7840 0.7421 0.6965 0.6465 0.5929 0.5375 0.4827 0.4308 0.3832 0.3395 0.2991 0.2613 0.2264 0.1944 0.1650 0.1370 0.1096 0.0828 0.0573 0.0349 0.0179 0.0074 0.0023 0.0005 0.0000 0.0000 0.0000 0.0000 0.0000 0.0000 0.0000 0.0000 0.0000 0.0000 0.0000 0.0000 0.0000 0.0000 0.0000 0.0000 0.0000 0.0000 0.0000 0.0000 0.0000 0.0000 0.0000 0.0000 0.0000 0.0000 0.0000 0.0000 0.0000 0.0000 0.0000 0.0000 0.0000 0.0000 0.0000 0.0000 0.0000 0.0000 0.0000 0.0000 0.0000 0.0000 0.0000 0.0000 0.0000 0.0000 0.0000 0.0000 0.0000 0.0000 0.0000 0.0000 0.0000 0.0000 0.0000 0.0000 0.0000 0.0000 0.0000 0.0000"/><feFuncA type="linear" slope="0" intercept="1"/></feComponentTransfer></filter>
<radialGradient id="g7_0" fx="0.4303" fy="0.4286"><stop offset="0.000" stop-color="#676767" stop-opacity="1.000"/><stop offset="0.150" stop-color="#636363" stop-opacity="1.000"/><stop offset="0.350" stop-color="#595959" stop-opacity="1.000"/><stop offset="0.500" stop-color="#525252" stop-opacity="1.000"/><stop offset="0.650" stop-color="#4d4d4d" stop-opacity="1.000"/><stop offset="0.800" stop-color="#464646" stop-opacity="1.000"/><stop offset="0.920" stop-color="#404040" stop-opacity="1.000"/><stop offset="1.000" stop-color="#3d3d3d" stop-opacity="0.000"/></radialGradient>
<clipPath id="cp8"><ellipse cx="207.3" cy="1189.8" rx="122.4" ry="115.0"/></clipPath>
<filter id="f8" filterUnits="userSpaceOnUse" x="64.9" y="1054.8" width="284.8" height="270.0" color-interpolation-filters="sRGB"><feTurbulence type="fractalNoise" baseFrequency="0.032" numOctaves="2" seed="17" result="tb"/><feDisplacementMap in="SourceGraphic" in2="tb" scale="14" xChannelSelector="R" yChannelSelector="G" result="dm"/><feComponentTransfer in="dm"><feFuncR type="table" tableValues="0.5305 0.5277 0.5241 0.5199 0.5153 0.5100 0.5031 0.4935 0.4801 0.4627 0.4410 0.4149 0.3848 0.3521 0.3177 0.2826 0.2472 0.2118 0.1773 0.1442 0.1134 0.0853 0.0611 0.0417 0.0275 0.0176 0.0105 0.0056 0.0024 0.0008 0.0002 0.0000 0.0000 0.0000 0.0000 0.0000 0.0000 0.0000 0.0000 0.0000 0.0000 0.0000 0.0000 0.0000 0.0000 0.0000 0.0000 0.0000 0.0000 0.0006 0.0034 0.0120 0.0308 0.0626 0.1062 0.1571 0.2109 0.2644 0.3166 0.3673 0.4174 0.4670 0.5164 0.5650 0.6117 0.6552 0.6948 0.7311 0.7656 0.7990 0.8315 0.8621 0.8894 0.9123 0.9311 0.9470 0.9612 0.9741 0.9849 0.9926 0.9972 0.9992 0.9999 1.0000 1.0000 1.0000 1.0000 1.0000 1.0000 1.0000 1.0000 1.0000 1.0000 1.0000 1.0000 1.0000 1.0000 1.0000 1.0000 1.0000 1.0000 1.0000 1.0000 1.0000 1.0000 1.0000 1.0000 1.0000 1.0000 0.9999 0.9986 0.9941 0.9827 0.9613 0.9294 0.8898 0.8460 0.8007 0.7558 0.7132 0.6762 0.6483 0.6311 0.6231 0.6203 0.6196 0.6196 0.6196 0.6196"/><feFuncG type="table" tableValues="0.0000 0.0000 0.0000 0.0000 0.0000 0.0000 0.0000 0.0001 0.0006 0.0024 0.0065 0.0142 0.0253 0.0388 0.0534 0.0682 0.0831 0.0983 0.1147 0.1332 0.1545 0.1793 0.2087 0.2437 0.2845 0.3299 0.3781 0.4279 0.4786 0.5299 0.5813 0.6320 0.6809 0.7276 0.7719 0.8144 0.8549 0.8917 0.9220 0.9436 0.9565 0.9635 0.9673 0.9697 0.9712 0.9721 0.9724 0.9725 0.9725 0.9726 0.9729 0.9738 0.9757 0.9790 0.9834 0.9883 0.9928 0.9964 0.9985 0.9996 0.9999 1.0000 1.0000 1.0000 1.0000 1.0000 1.0000 1.0000 1.0000 1.0000 0.9998 0.9992 0.9978 0.9955 0.9923 0.9884 0.9839 0.9787 0.9720 0.9630 0.9516 0.9384 0.9238 0.9070 0.8858 0.8572 0.8196 0.7741 0.7236 0.6707 0.6165 0.5608 0.5024 0.4407 0.3761 0.3096 0.2426 0.1769 0.1164 0.0663 0.0313 0.0116 0.0031 0.0005 0.0000 0.0000 0.0000 0.0000 0.0000 0.0000 0.0000 0.0000 0.0000 0.0000 0.0000 0.0000 0.0000 0.0000 0.0000 0.0000 0.0000 0.0000 0.0000 0.0000 0.0000 0.0000 0.0000 0.0000 0.0000"/><feFuncB type="table" tableValues="0.6688 0.6709 0.6736 0.6768 0.6801 0.6838 0.6882 0.6937 0.7011 0.7106 0.7231 0.7390 0.7581 0.7790 0.8002 0.8207 0.8402 0.8591 0.8777 0.8967 0.9158 0.9340 0.9498 0.9613 0.9682 0.9713 0.9723 0.9725 0.9725 0.9726 0.9728 0.9734 0.9747 0.9771 0.9805 0.9844 0.9874 0.9876 0.9820 0.9686 0.9475 0.9208 0.8907 0.8580 0.8225 0.7840 0.7421 0.6965 0.6465 0.5929 0.5375 0.4827 0.4308 0.3832 0.3395 0.2991 0.2613 0.2264 0.1944 0.1650 0.1370 0.1096 0.0828 0.0573 0.0349 0.0179 0.0074 0.0023 0.0005 0.0000 0.0000 0.0000 0.0000 0.0000 0.0000 0.0000 0.0000 0.0000 0.0000 0.0000 0.0000 0.0000 0.0000 0.0000 0.0000 0.0000 0.0000 0.0000 0.0000 0.0000 0.0000 0.0000 0.0000 0.0000 0.0000 0.0000 0.0000 0.0000 0.0000 0.0000 0.0000 0.0000 0.0000 0.0000 0.0000 0.0000 0.0000 0.0000 0.0000 0.0000 0.0000 0.0000 0.0000 0.0000 0.0000 0.0000 0.0000 0.0000 0.0000 0.0000 0.0000 0.0000 0.0000 0.0000 0.0000 0.0000 0.0000 0.0000 0.0000"/><feFuncA type="linear" slope="0" intercept="1"/></feComponentTransfer></filter>
<radialGradient id="g8_0" fx="0.4519" fy="0.4500"><stop offset="0.000" stop-color="#f0f0f0" stop-opacity="1.000"/><stop offset="0.180" stop-color="#ececec" stop-opacity="1.000"/><stop offset="0.360" stop-color="#dedede" stop-opacity="1.000"/><stop offset="0.550" stop-color="#d0d0d0" stop-opacity="1.000"/><stop offset="0.720" stop-color="#c5c5c5" stop-opacity="1.000"/><stop offset="0.790" stop-color="#aeaeae" stop-opacity="1.000"/><stop offset="0.845" stop-color="#9c9c9c" stop-opacity="1.000"/><stop offset="0.905" stop-color="#727272" stop-opacity="1.000"/><stop offset="0.960" stop-color="#5d5d5d" stop-opacity="1.000"/><stop offset="1.000" stop-color="#545454" stop-opacity="0.000"/></radialGradient>
<radialGradient id="g8_1" fx="0.5000" fy="0.5000"><stop offset="0.000" stop-color="#c0c0c0" stop-opacity="0.950"/><stop offset="0.500" stop-color="#c1c1c1" stop-opacity="0.800"/><stop offset="1.000" stop-color="#c3c3c3" stop-opacity="0.000"/></radialGradient>
<clipPath id="cp9"><ellipse cx="624.0" cy="864.9" rx="122.5" ry="115.0"/></clipPath>
<filter id="f9" filterUnits="userSpaceOnUse" x="481.5" y="729.9" width="285.0" height="270.0" color-interpolation-filters="sRGB"><feTurbulence type="fractalNoise" baseFrequency="0.03" numOctaves="2" seed="19" result="tb"/><feDisplacementMap in="SourceGraphic" in2="tb" scale="4" xChannelSelector="R" yChannelSelector="G" result="dm"/><feTurbulence type="fractalNoise" baseFrequency="0.06" numOctaves="2" seed="26" result="nz"/><feColorMatrix in="nz" type="matrix" values="1 0 0 0 0  1 0 0 0 0  1 0 0 0 0  0 0 0 0 1" result="nzg"/><feComposite in="dm" in2="nzg" operator="arithmetic" k1="0" k2="1" k3="0.03" k4="-0.015" result="ad"/><feComponentTransfer in="ad"><feFuncR type="table" tableValues="0.5305 0.5277 0.5241 0.5199 0.5153 0.5100 0.5031 0.4935 0.4801 0.4627 0.4410 0.4149 0.3848 0.3521 0.3177 0.2826 0.2472 0.2118 0.1773 0.1442 0.1134 0.0853 0.0611 0.0417 0.0275 0.0176 0.0105 0.0056 0.0024 0.0008 0.0002 0.0000 0.0000 0.0000 0.0000 0.0000 0.0000 0.0000 0.0000 0.0000 0.0000 0.0000 0.0000 0.0000 0.0000 0.0000 0.0000 0.0000 0.0000 0.0006 0.0034 0.0120 0.0308 0.0626 0.1062 0.1571 0.2109 0.2644 0.3166 0.3673 0.4174 0.4670 0.5164 0.5650 0.6117 0.6552 0.6948 0.7311 0.7656 0.7990 0.8315 0.8621 0.8894 0.9123 0.9311 0.9470 0.9612 0.9741 0.9849 0.9926 0.9972 0.9992 0.9999 1.0000 1.0000 1.0000 1.0000 1.0000 1.0000 1.0000 1.0000 1.0000 1.0000 1.0000 1.0000 1.0000 1.0000 1.0000 1.0000 1.0000 1.0000 1.0000 1.0000 1.0000 1.0000 1.0000 1.0000 1.0000 1.0000 0.9999 0.9986 0.9941 0.9827 0.9613 0.9294 0.8898 0.8460 0.8007 0.7558 0.7132 0.6762 0.6483 0.6311 0.6231 0.6203 0.6196 0.6196 0.6196 0.6196"/><feFuncG type="table" tableValues="0.0000 0.0000 0.0000 0.0000 0.0000 0.0000 0.0000 0.0001 0.0006 0.0024 0.0065 0.0142 0.0253 0.0388 0.0534 0.0682 0.0831 0.0983 0.1147 0.1332 0.1545 0.1793 0.2087 0.2437 0.2845 0.3299 0.3781 0.4279 0.4786 0.5299 0.5813 0.6320 0.6809 0.7276 0.7719 0.8144 0.8549 0.8917 0.9220 0.9436 0.9565 0.9635 0.9673 0.9697 0.9712 0.9721 0.9724 0.9725 0.9725 0.9726 0.9729 0.9738 0.9757 0.9790 0.9834 0.9883 0.9928 0.9964 0.9985 0.9996 0.9999 1.0000 1.0000 1.0000 1.0000 1.0000 1.0000 1.0000 1.0000 1.0000 0.9998 0.9992 0.9978 0.9955 0.9923 0.9884 0.9839 0.9787 0.9720 0.9630 0.9516 0.9384 0.9238 0.9070 0.8858 0.8572 0.8196 0.7741 0.7236 0.6707 0.6165 0.5608 0.5024 0.4407 0.3761 0.3096 0.2426 0.1769 0.1164 0.0663 0.0313 0.0116 0.0031 0.0005 0.0000 0.0000 0.0000 0.0000 0.0000 0.0000 0.0000 0.0000 0.0000 0.0000 0.0000 0.0000 0.0000 0.0000 0.0000 0.0000 0.0000 0.0000 0.0000 0.0000 0.0000 0.0000 0.0000 0.0000 0.0000"/><feFuncB type="table" tableValues="0.6688 0.6709 0.6736 0.6768 0.6801 0.6838 0.6882 0.6937 0.7011 0.7106 0.7231 0.7390 0.7581 0.7790 0.8002 0.8207 0.8402 0.8591 0.8777 0.8967 0.9158 0.9340 0.9498 0.9613 0.9682 0.9713 0.9723 0.9725 0.9725 0.9726 0.9728 0.9734 0.9747 0.9771 0.9805 0.9844 0.9874 0.9876 0.9820 0.9686 0.9475 0.9208 0.8907 0.8580 0.8225 0.7840 0.7421 0.6965 0.6465 0.5929 0.5375 0.4827 0.4308 0.3832 0.3395 0.2991 0.2613 0.2264 0.1944 0.1650 0.1370 0.1096 0.0828 0.0573 0.0349 0.0179 0.0074 0.0023 0.0005 0.0000 0.0000 0.0000 0.0000 0.0000 0.0000 0.0000 0.0000 0.0000 0.0000 0.0000 0.0000 0.0000 0.0000 0.0000 0.0000 0.0000 0.0000 0.0000 0.0000 0.0000 0.0000 0.0000 0.0000 0.0000 0.0000 0.0000 0.0000 0.0000 0.0000 0.0000 0.0000 0.0000 0.0000 0.0000 0.0000 0.0000 0.0000 0.0000 0.0000 0.0000 0.0000 0.0000 0.0000 0.0000 0.0000 0.0000 0.0000 0.0000 0.0000 0.0000 0.0000 0.0000 0.0000 0.0000 0.0000 0.0000 0.0000 0.0000 0.0000"/><feFuncA type="linear" slope="0" intercept="1"/></feComponentTransfer></filter>
<radialGradient id="g9_0" fx="0.4590" fy="0.4649"><stop offset="0.000" stop-color="#575757" stop-opacity="1.000"/><stop offset="0.200" stop-color="#555555" stop-opacity="1.000"/><stop offset="0.400" stop-color="#505050" stop-opacity="1.000"/><stop offset="0.520" stop-color="#4d4d4d" stop-opacity="1.000"/><stop offset="0.700" stop-color="#464646" stop-opacity="1.000"/><stop offset="0.850" stop-color="#414141" stop-opacity="1.000"/><stop offset="1.000" stop-color="#3c3c3c" stop-opacity="0.000"/></radialGradient>
<clipPath id="cp10"><ellipse cx="624.0" cy="1190.0" rx="122.5" ry="115.5"/></clipPath>
<filter id="f10" filterUnits="userSpaceOnUse" x="481.5" y="1054.5" width="285.0" height="271.0" color-interpolation-filters="sRGB"><feTurbulence type="fractalNoise" baseFrequency="0.035" numOctaves="2" seed="21" result="tb"/><feDisplacementMap in="SourceGraphic" in2="tb" scale="11" xChannelSelector="R" yChannelSelector="G" result="dm"/><feTurbulence type="fractalNoise" baseFrequency="0.035" numOctaves="2" seed="28" result="nz"/><feColorMatrix in="nz" type="matrix" values="1 0 0 0 0  1 0 0 0 0  1 0 0 0 0  0 0 0 0 1" result="nzg"/><feComposite in="dm" in2="nzg" operator="arithmetic" k1="0" k2="1" k3="0.04" k4="-0.02" result="ad"/><feComponentTransfer in="ad"><feFuncR type="table" tableValues="0.5305 0.5277 0.5241 0.5199 0.5153 0.5100 0.5031 0.4935 0.4801 0.4627 0.4410 0.4149 0.3848 0.3521 0.3177 0.2826 0.2472 0.2118 0.1773 0.1442 0.1134 0.0853 0.0611 0.0417 0.0275 0.0176 0.0105 0.0056 0.0024 0.0008 0.0002 0.0000 0.0000 0.0000 0.0000 0.0000 0.0000 0.0000 0.0000 0.0000 0.0000 0.0000 0.0000 0.0000 0.0000 0.0000 0.0000 0.0000 0.0000 0.0006 0.0034 0.0120 0.0308 0.0626 0.1062 0.1571 0.2109 0.2644 0.3166 0.3673 0.4174 0.4670 0.5164 0.5650 0.6117 0.6552 0.6948 0.7311 0.7656 0.7990 0.8315 0.8621 0.8894 0.9123 0.9311 0.9470 0.9612 0.9741 0.9849 0.9926 0.9972 0.9992 0.9999 1.0000 1.0000 1.0000 1.0000 1.0000 1.0000 1.0000 1.0000 1.0000 1.0000 1.0000 1.0000 1.0000 1.0000 1.0000 1.0000 1.0000 1.0000 1.0000 1.0000 1.0000 1.0000 1.0000 1.0000 1.0000 1.0000 0.9999 0.9986 0.9941 0.9827 0.9613 0.9294 0.8898 0.8460 0.8007 0.7558 0.7132 0.6762 0.6483 0.6311 0.6231 0.6203 0.6196 0.6196 0.6196 0.6196"/><feFuncG type="table" tableValues="0.0000 0.0000 0.0000 0.0000 0.0000 0.0000 0.0000 0.0001 0.0006 0.0024 0.0065 0.0142 0.0253 0.0388 0.0534 0.0682 0.0831 0.0983 0.1147 0.1332 0.1545 0.1793 0.2087 0.2437 0.2845 0.3299 0.3781 0.4279 0.4786 0.5299 0.5813 0.6320 0.6809 0.7276 0.7719 0.8144 0.8549 0.8917 0.9220 0.9436 0.9565 0.9635 0.9673 0.9697 0.9712 0.9721 0.9724 0.9725 0.9725 0.9726 0.9729 0.9738 0.9757 0.9790 0.9834 0.9883 0.9928 0.9964 0.9985 0.9996 0.9999 1.0000 1.0000 1.0000 1.0000 1.0000 1.0000 1.0000 1.0000 1.0000 0.9998 0.9992 0.9978 0.9955 0.9923 0.9884 0.9839 0.9787 0.9720 0.9630 0.9516 0.9384 0.9238 0.9070 0.8858 0.8572 0.8196 0.7741 0.7236 0.6707 0.6165 0.5608 0.5024 0.4407 0.3761 0.3096 0.2426 0.1769 0.1164 0.0663 0.0313 0.0116 0.0031 0.0005 0.0000 0.0000 0.0000 0.0000 0.0000 0.0000 0.0000 0.0000 0.0000 0.0000 0.0000 0.0000 0.0000 0.0000 0.0000 0.0000 0.0000 0.0000 0.0000 0.0000 0.0000 0.0000 0.0000 0.0000 0.0000"/><feFuncB type="table" tableValues="0.6688 0.6709 0.6736 0.6768 0.6801 0.6838 0.6882 0.6937 0.7011 0.7106 0.7231 0.7390 0.7581 0.7790 0.8002 0.8207 0.8402 0.8591 0.8777 0.8967 0.9158 0.9340 0.9498 0.9613 0.9682 0.9713 0.9723 0.9725 0.9725 0.9726 0.9728 0.9734 0.9747 0.9771 0.9805 0.9844 0.9874 0.9876 0.9820 0.9686 0.9475 0.9208 0.8907 0.8580 0.8225 0.7840 0.7421 0.6965 0.6465 0.5929 0.5375 0.4827 0.4308 0.3832 0.3395 0.2991 0.2613 0.2264 0.1944 0.1650 0.1370 0.1096 0.0828 0.0573 0.0349 0.0179 0.0074 0.0023 0.0005 0.0000 0.0000 0.0000 0.0000 0.0000 0.0000 0.0000 0.0000 0.0000 0.0000 0.0000 0.0000 0.0000 0.0000 0.0000 0.0000 0.0000 0.0000 0.0000 0.0000 0.0000 0.0000 0.0000 0.0000 0.0000 0.0000 0.0000 0.0000 0.0000 0.0000 0.0000 0.0000 0.0000 0.0000 0.0000 0.0000 0.0000 0.0000 0.0000 0.0000 0.0000 0.0000 0.0000 0.0000 0.0000 0.0000 0.0000 0.0000 0.0000 0.0000 0.0000 0.0000 0.0000 0.0000 0.0000 0.0000 0.0000 0.0000 0.0000 0.0000"/><feFuncA type="linear" slope="0" intercept="1"/></feComponentTransfer></filter>
<radialGradient id="g10_0" fx="0.5000" fy="0.5000"><stop offset="0.000" stop-color="#eeeeee" stop-opacity="1.000"/><stop offset="0.500" stop-color="#eaeaea" stop-opacity="1.000"/><stop offset="0.680" stop-color="#e3e3e3" stop-opacity="1.000"/><stop offset="0.760" stop-color="#c5c5c5" stop-opacity="1.000"/><stop offset="0.795" stop-color="#aeaeae" stop-opacity="1.000"/><stop offset="0.835" stop-color="#9c9c9c" stop-opacity="1.000"/><stop offset="0.900" stop-color="#727272" stop-opacity="1.000"/><stop offset="0.960" stop-color="#5d5d5d" stop-opacity="1.000"/><stop offset="1.000" stop-color="#565656" stop-opacity="0.000"/></radialGradient>
<clipPath id="cp11"><ellipse cx="1041.2" cy="864.9" rx="121.4" ry="115.9"/></clipPath>
<filter id="f11" filterUnits="userSpaceOnUse" x="899.8" y="729.0" width="282.8" height="271.8" color-interpolation-filters="sRGB"><feTurbulence type="fractalNoise" baseFrequency="0.03" numOctaves="2" seed="23" result="tb"/><feDisplacementMap in="SourceGraphic" in2="tb" scale="3" xChannelSelector="R" yChannelSelector="G" result="dm"/><feTurbulence type="fractalNoise" baseFrequency="0.06" numOctaves="2" seed="30" result="nz"/><feColorMatrix in="nz" type="matrix" values="1 0 0 0 0  1 0 0 0 0  1 0 0 0 0  0 0 0 0 1" result="nzg"/><feComposite in="dm" in2="nzg" operator="arithmetic" k1="0" k2="1" k3="0.02" k4="-0.01" result="ad"/><feComponentTransfer in="ad"><feFuncR type="table" tableValues="0.5305 0.5277 0.5241 0.5199 0.5153 0.5100 0.5031 0.4935 0.4801 0.4627 0.4410 0.4149 0.3848 0.3521 0.3177 0.2826 0.2472 0.2118 0.1773 0.1442 0.1134 0.0853 0.0611 0.0417 0.0275 0.0176 0.0105 0.0056 0.0024 0.0008 0.0002 0.0000 0.0000 0.0000 0.0000 0.0000 0.0000 0.0000 0.0000 0.0000 0.0000 0.0000 0.0000 0.0000 0.0000 0.0000 0.0000 0.0000 0.0000 0.0006 0.0034 0.0120 0.0308 0.0626 0.1062 0.1571 0.2109 0.2644 0.3166 0.3673 0.4174 0.4670 0.5164 0.5650 0.6117 0.6552 0.6948 0.7311 0.7656 0.7990 0.8315 0.8621 0.8894 0.9123 0.9311 0.9470 0.9612 0.9741 0.9849 0.9926 0.9972 0.9992 0.9999 1.0000 1.0000 1.0000 1.0000 1.0000 1.0000 1.0000 1.0000 1.0000 1.0000 1.0000 1.0000 1.0000 1.0000 1.0000 1.0000 1.0000 1.0000 1.0000 1.0000 1.0000 1.0000 1.0000 1.0000 1.0000 1.0000 0.9999 0.9986 0.9941 0.9827 0.9613 0.9294 0.8898 0.8460 0.8007 0.7558 0.7132 0.6762 0.6483 0.6311 0.6231 0.6203 0.6196 0.6196 0.6196 0.6196"/><feFuncG type="table" tableValues="0.0000 0.0000 0.0000 0.0000 0.0000 0.0000 0.0000 0.0001 0.0006 0.0024 0.0065 0.0142 0.0253 0.0388 0.0534 0.0682 0.0831 0.0983 0.1147 0.1332 0.1545 0.1793 0.2087 0.2437 0.2845 0.3299 0.3781 0.4279 0.4786 0.5299 0.5813 0.6320 0.6809 0.7276 0.7719 0.8144 0.8549 0.8917 0.9220 0.9436 0.9565 0.9635 0.9673 0.9697 0.9712 0.9721 0.9724 0.9725 0.9725 0.9726 0.9729 0.9738 0.9757 0.9790 0.9834 0.9883 0.9928 0.9964 0.9985 0.9996 0.9999 1.0000 1.0000 1.0000 1.0000 1.0000 1.0000 1.0000 1.0000 1.0000 0.9998 0.9992 0.9978 0.9955 0.9923 0.9884 0.9839 0.9787 0.9720 0.9630 0.9516 0.9384 0.9238 0.9070 0.8858 0.8572 0.8196 0.7741 0.7236 0.6707 0.6165 0.5608 0.5024 0.4407 0.3761 0.3096 0.2426 0.1769 0.1164 0.0663 0.0313 0.0116 0.0031 0.0005 0.0000 0.0000 0.0000 0.0000 0.0000 0.0000 0.0000 0.0000 0.0000 0.0000 0.0000 0.0000 0.0000 0.0000 0.0000 0.0000 0.0000 0.0000 0.0000 0.0000 0.0000 0.0000 0.0000 0.0000 0.0000"/><feFuncB type="table" tableValues="0.6688 0.6709 0.6736 0.6768 0.6801 0.6838 0.6882 0.6937 0.7011 0.7106 0.7231 0.7390 0.7581 0.7790 0.8002 0.8207 0.8402 0.8591 0.8777 0.8967 0.9158 0.9340 0.9498 0.9613 0.9682 0.9713 0.9723 0.9725 0.9725 0.9726 0.9728 0.9734 0.9747 0.9771 0.9805 0.9844 0.9874 0.9876 0.9820 0.9686 0.9475 0.9208 0.8907 0.8580 0.8225 0.7840 0.7421 0.6965 0.6465 0.5929 0.5375 0.4827 0.4308 0.3832 0.3395 0.2991 0.2613 0.2264 0.1944 0.1650 0.1370 0.1096 0.0828 0.0573 0.0349 0.0179 0.0074 0.0023 0.0005 0.0000 0.0000 0.0000 0.0000 0.0000 0.0000 0.0000 0.0000 0.0000 0.0000 0.0000 0.0000 0.0000 0.0000 0.0000 0.0000 0.0000 0.0000 0.0000 0.0000 0.0000 0.0000 0.0000 0.0000 0.0000 0.0000 0.0000 0.0000 0.0000 0.0000 0.0000 0.0000 0.0000 0.0000 0.0000 0.0000 0.0000 0.0000 0.0000 0.0000 0.0000 0.0000 0.0000 0.0000 0.0000 0.0000 0.0000 0.0000 0.0000 0.0000 0.0000 0.0000 0.0000 0.0000 0.0000 0.0000 0.0000 0.0000 0.0000 0.0000"/><feFuncA type="linear" slope="0" intercept="1"/></feComponentTransfer></filter>
<radialGradient id="g11_0" fx="0.5000" fy="0.5000"><stop offset="0.000" stop-color="#373737" stop-opacity="1.000"/><stop offset="0.400" stop-color="#353535" stop-opacity="1.000"/><stop offset="0.750" stop-color="#313131" stop-opacity="1.000"/><stop offset="1.000" stop-color="#2c2c2c" stop-opacity="0.000"/></radialGradient>
<radialGradient id="g11_1" fx="0.5000" fy="0.5000"><stop offset="0.000" stop-color="#3d3d3d" stop-opacity="1.000"/><stop offset="0.500" stop-color="#3b3b3b" stop-opacity="0.800"/><stop offset="1.000" stop-color="#363636" stop-opacity="0.000"/></radialGradient>
<clipPath id="cp12"><ellipse cx="1041.2" cy="1192.5" rx="121.4" ry="115.4"/></clipPath>
<filter id="f12" filterUnits="userSpaceOnUse" x="899.8" y="1057.1" width="282.8" height="270.8" color-interpolation-filters="sRGB"><feTurbulence type="fractalNoise" baseFrequency="0.035" numOctaves="2" seed="25" result="tb"/><feDisplacementMap in="SourceGraphic" in2="tb" scale="9" xChannelSelector="R" yChannelSelector="G" result="dm"/><feComponentTransfer in="dm"><feFuncR type="table" tableValues="0.5305 0.5277 0.5241 0.5199 0.5153 0.5100 0.5031 0.4935 0.4801 0.4627 0.4410 0.4149 0.3848 0.3521 0.3177 0.2826 0.2472 0.2118 0.1773 0.1442 0.1134 0.0853 0.0611 0.0417 0.0275 0.0176 0.0105 0.0056 0.0024 0.0008 0.0002 0.0000 0.0000 0.0000 0.0000 0.0000 0.0000 0.0000 0.0000 0.0000 0.0000 0.0000 0.0000 0.0000 0.0000 0.0000 0.0000 0.0000 0.0000 0.0006 0.0034 0.0120 0.0308 0.0626 0.1062 0.1571 0.2109 0.2644 0.3166 0.3673 0.4174 0.4670 0.5164 0.5650 0.6117 0.6552 0.6948 0.7311 0.7656 0.7990 0.8315 0.8621 0.8894 0.9123 0.9311 0.9470 0.9612 0.9741 0.9849 0.9926 0.9972 0.9992 0.9999 1.0000 1.0000 1.0000 1.0000 1.0000 1.0000 1.0000 1.0000 1.0000 1.0000 1.0000 1.0000 1.0000 1.0000 1.0000 1.0000 1.0000 1.0000 1.0000 1.0000 1.0000 1.0000 1.0000 1.0000 1.0000 1.0000 0.9999 0.9986 0.9941 0.9827 0.9613 0.9294 0.8898 0.8460 0.8007 0.7558 0.7132 0.6762 0.6483 0.6311 0.6231 0.6203 0.6196 0.6196 0.6196 0.6196"/><feFuncG type="table" tableValues="0.0000 0.0000 0.0000 0.0000 0.0000 0.0000 0.0000 0.0001 0.0006 0.0024 0.0065 0.0142 0.0253 0.0388 0.0534 0.0682 0.0831 0.0983 0.1147 0.1332 0.1545 0.1793 0.2087 0.2437 0.2845 0.3299 0.3781 0.4279 0.4786 0.5299 0.5813 0.6320 0.6809 0.7276 0.7719 0.8144 0.8549 0.8917 0.9220 0.9436 0.9565 0.9635 0.9673 0.9697 0.9712 0.9721 0.9724 0.9725 0.9725 0.9726 0.9729 0.9738 0.9757 0.9790 0.9834 0.9883 0.9928 0.9964 0.9985 0.9996 0.9999 1.0000 1.0000 1.0000 1.0000 1.0000 1.0000 1.0000 1.0000 1.0000 0.9998 0.9992 0.9978 0.9955 0.9923 0.9884 0.9839 0.9787 0.9720 0.9630 0.9516 0.9384 0.9238 0.9070 0.8858 0.8572 0.8196 0.7741 0.7236 0.6707 0.6165 0.5608 0.5024 0.4407 0.3761 0.3096 0.2426 0.1769 0.1164 0.0663 0.0313 0.0116 0.0031 0.0005 0.0000 0.0000 0.0000 0.0000 0.0000 0.0000 0.0000 0.0000 0.0000 0.0000 0.0000 0.0000 0.0000 0.0000 0.0000 0.0000 0.0000 0.0000 0.0000 0.0000 0.0000 0.0000 0.0000 0.0000 0.0000"/><feFuncB type="table" tableValues="0.6688 0.6709 0.6736 0.6768 0.6801 0.6838 0.6882 0.6937 0.7011 0.7106 0.7231 0.7390 0.7581 0.7790 0.8002 0.8207 0.8402 0.8591 0.8777 0.8967 0.9158 0.9340 0.9498 0.9613 0.9682 0.9713 0.9723 0.9725 0.9725 0.9726 0.9728 0.9734 0.9747 0.9771 0.9805 0.9844 0.9874 0.9876 0.9820 0.9686 0.9475 0.9208 0.8907 0.8580 0.8225 0.7840 0.7421 0.6965 0.6465 0.5929 0.5375 0.4827 0.4308 0.3832 0.3395 0.2991 0.2613 0.2264 0.1944 0.1650 0.1370 0.1096 0.0828 0.0573 0.0349 0.0179 0.0074 0.0023 0.0005 0.0000 0.0000 0.0000 0.0000 0.0000 0.0000 0.0000 0.0000 0.0000 0.0000 0.0000 0.0000 0.0000 0.0000 0.0000 0.0000 0.0000 0.0000 0.0000 0.0000 0.0000 0.0000 0.0000 0.0000 0.0000 0.0000 0.0000 0.0000 0.0000 0.0000 0.0000 0.0000 0.0000 0.0000 0.0000 0.0000 0.0000 0.0000 0.0000 0.0000 0.0000 0.0000 0.0000 0.0000 0.0000 0.0000 0.0000 0.0000 0.0000 0.0000 0.0000 0.0000 0.0000 0.0000 0.0000 0.0000 0.0000 0.0000 0.0000 0.0000"/><feFuncA type="linear" slope="0" intercept="1"/></feComponentTransfer></filter>
<radialGradient id="g12_0" fx="0.5169" fy="0.4464"><stop offset="0.000" stop-color="#f0f0f0" stop-opacity="1.000"/><stop offset="0.200" stop-color="#ebebeb" stop-opacity="1.000"/><stop offset="0.400" stop-color="#dbdbdb" stop-opacity="1.000"/><stop offset="0.585" stop-color="#c5c5c5" stop-opacity="1.000"/><stop offset="0.620" stop-color="#aeaeae" stop-opacity="1.000"/><stop offset="0.650" stop-color="#9c9c9c" stop-opacity="1.000"/><stop offset="0.720" stop-color="#6f6f6f" stop-opacity="1.000"/><stop offset="0.800" stop-color="#585858" stop-opacity="1.000"/><stop offset="0.860" stop-color="#4d4d4d" stop-opacity="1.000"/><stop offset="0.940" stop-color="#434343" stop-opacity="1.000"/><stop offset="1.000" stop-color="#3f3f3f" stop-opacity="0.000"/></radialGradient>
<radialGradient id="g12_1" fx="0.5000" fy="0.5000"><stop offset="0.000" stop-color="#b6b6b6" stop-opacity="1.000"/><stop offset="0.500" stop-color="#b9b9b9" stop-opacity="0.950"/><stop offset="0.800" stop-color="#bcbcbc" stop-opacity="0.600"/><stop offset="1.000" stop-color="#bfbfbf" stop-opacity="0.000"/></radialGradient>
</defs>
<rect width="1341" height="1357" fill="#fff"/>
<g fill="none" stroke="#f2f2f2" stroke-width="1.2">
<path d="M741.5 672V25.5H905.5V672"/>
<path d="M743 691.5H910"/>
<path d="M1168 691.5H1341"/>
</g>
<g filter="url(#soft2)">
<g clip-path="url(#cp1)"><g filter="url(#f1)"><rect x="63.0" y="54.0" width="282.0" height="269.0" fill="#1a1a1a"/><ellipse cx="204.5" cy="184.0" rx="114.0" ry="111.0" transform="rotate(0 204.5 184.0)" fill="url(#g1_0)"/><ellipse cx="233.0" cy="227.0" rx="15.0" ry="12.0" transform="rotate(0 233.0 227.0)" fill="url(#g1_1)"/></g></g>
<g clip-path="url(#cp2)"><g filter="url(#f2)"><rect x="64.0" y="370.0" width="283.0" height="267.0" fill="#1f1f1f"/><ellipse cx="201.0" cy="503.5" rx="108.0" ry="104.0" transform="rotate(0 201.0 503.5)" fill="url(#g2_0)"/><ellipse cx="175.0" cy="530.0" rx="34.0" ry="30.0" transform="rotate(0 175.0 530.0)" fill="url(#g2_1)"/></g></g>
<g clip-path="url(#cp3)"><g filter="url(#f3)"><rect x="478.0" y="47.5" width="280.0" height="267.0" fill="#1e1e1e"/><ellipse cx="625.0" cy="184.0" rx="116.0" ry="102.0" transform="rotate(0 625.0 184.0)" fill="url(#g3_0)"/><ellipse cx="650.0" cy="158.0" rx="36.0" ry="30.0" transform="rotate(0 650.0 158.0)" fill="url(#g3_1)" style="mix-blend-mode:lighten"/><ellipse cx="668.0" cy="232.0" rx="50.0" ry="34.0" transform="rotate(-30 668.0 232.0)" fill="url(#g3_2)" style="mix-blend-mode:lighten"/></g></g>
<g clip-path="url(#cp4)"><g filter="url(#f4)"><rect x="478.0" y="370.0" width="280.0" height="266.6" fill="#242424"/><ellipse cx="618.0" cy="500.0" rx="103.0" ry="103.0" transform="rotate(0 618.0 500.0)" fill="url(#g4_0)"/><ellipse cx="645.0" cy="541.0" rx="37.0" ry="35.0" transform="rotate(0 645.0 541.0)" fill="url(#g4_1)" style="mix-blend-mode:darken"/><ellipse cx="645.0" cy="462.0" rx="7.0" ry="7.0" transform="rotate(0 645.0 462.0)" fill="url(#g4_2)"/></g></g>
<g clip-path="url(#cp5)"><g filter="url(#f5)"><rect x="889.8" y="47.2" width="281.2" height="267.6" fill="#2e2e2e"/><ellipse cx="1027.0" cy="176.0" rx="115.0" ry="105.0" transform="rotate(0 1027.0 176.0)" fill="url(#g5_0)"/><ellipse cx="1078.0" cy="242.0" rx="52.0" ry="34.0" transform="rotate(-30 1078.0 242.0)" fill="url(#g5_1)" style="mix-blend-mode:lighten"/></g></g>
<g clip-path="url(#cp6)"><g filter="url(#f6)"><rect x="889.8" y="373.3" width="281.2" height="265.4" fill="#313131"/><ellipse cx="925.0" cy="600.0" rx="230.0" ry="230.0" transform="rotate(0 925.0 600.0)" fill="url(#g6_0)"/><ellipse cx="1024.0" cy="508.5" rx="114.5" ry="111.0" transform="rotate(0 1024.0 508.5)" fill="url(#g6_1)"/><ellipse cx="1030.0" cy="522.0" rx="62.0" ry="58.0" transform="rotate(0 1030.0 522.0)" fill="url(#g6_2)"/><ellipse cx="1020.0" cy="487.0" rx="76.0" ry="61.0" transform="rotate(-22 1020.0 487.0)" fill="url(#g6_3)"/><ellipse cx="1060.0" cy="467.0" rx="8.0" ry="8.0" transform="rotate(0 1060.0 467.0)" fill="url(#g6_4)"/></g></g>
<g clip-path="url(#cp7)"><g filter="url(#f7)"><rect x="63.0" y="736.0" width="284.0" height="270.0" fill="#3d3d3d"/><ellipse cx="203.0" cy="871.0" rx="122.0" ry="112.0" transform="rotate(0 203.0 871.0)" fill="url(#g7_0)"/></g></g>
<g clip-path="url(#cp8)"><g filter="url(#f8)"><rect x="64.9" y="1054.8" width="284.8" height="270.0" fill="#545454"/><ellipse cx="208.0" cy="1186.0" rx="104.0" ry="100.0" transform="rotate(0 208.0 1186.0)" fill="url(#g8_0)"/><ellipse cx="224.0" cy="1237.0" rx="60.0" ry="30.0" transform="rotate(0 224.0 1237.0)" fill="url(#g8_1)" style="mix-blend-mode:darken"/></g></g>
<g clip-path="url(#cp9)"><g filter="url(#f9)"><rect x="481.5" y="729.9" width="285.0" height="270.0" fill="#3c3c3c"/><ellipse cx="618.0" cy="862.0" rx="122.0" ry="114.0" transform="rotate(0 618.0 862.0)" fill="url(#g9_0)"/></g></g>
<g clip-path="url(#cp10)"><g filter="url(#f10)"><rect x="481.5" y="1054.5" width="285.0" height="271.0" fill="#565656"/><ellipse cx="620.5" cy="1184.5" rx="106.0" ry="102.0" transform="rotate(0 620.5 1184.5)" fill="url(#g10_0)"/></g></g>
<g clip-path="url(#cp11)"><g filter="url(#f11)"><rect x="899.8" y="729.0" width="282.8" height="271.8" fill="#2c2c2c"/><ellipse cx="1068.0" cy="878.0" rx="135.0" ry="122.0" transform="rotate(0 1068.0 878.0)" fill="url(#g11_0)"/><ellipse cx="1166.0" cy="885.0" rx="44.0" ry="75.0" transform="rotate(0 1166.0 885.0)" fill="url(#g11_1)"/></g></g>
<g clip-path="url(#cp12)"><g filter="url(#f12)"><rect x="899.8" y="1057.1" width="282.8" height="270.8" fill="#3f3f3f"/><ellipse cx="1038.0" cy="1193.0" rx="118.0" ry="112.0" transform="rotate(0 1038.0 1193.0)" fill="url(#g12_0)"/><ellipse cx="1072.0" cy="1240.0" rx="42.0" ry="33.0" transform="rotate(-25 1072.0 1240.0)" fill="url(#g12_1)" style="mix-blend-mode:darken"/></g></g>
</g>
<g filter="url(#soft)">
<rect class="cbr" x="349.5" y="61.5" width="72.0" height="576.5" fill="url(#cb0)"/>
<line class="tk" x1="422.5" x2="437.5" y1="120.3" y2="120.3"/>
<text class="tl" transform="translate(446.5 126.7) scale(1.02 1)">70.0</text>
<line class="tk" x1="422.5" x2="437.5" y1="218.4" y2="218.4"/>
<text class="tl" transform="translate(446.5 224.8) scale(1.02 1)">60.0</text>
<line class="tk" x1="422.5" x2="437.5" y1="316.4" y2="316.4"/>
<text class="tl" transform="translate(446.5 322.8) scale(1.02 1)">50.0</text>
<line class="tk" x1="422.5" x2="437.5" y1="414.5" y2="414.5"/>
<text class="tl" transform="translate(446.5 420.9) scale(1.02 1)">40.0</text>
<line class="tk" x1="422.5" x2="437.5" y1="512.5" y2="512.5"/>
<text class="tl" transform="translate(446.5 518.9) scale(1.02 1)">30.0</text>
<line class="tk" x1="422.5" x2="437.5" y1="610.5" y2="610.5"/>
<text class="tl" transform="translate(446.5 616.9) scale(1.02 1)">20.0</text>
<text class="tl" transform="translate(331.0 45.3) scale(0.9945 1)">76.0 °C</text>
<text class="tl" transform="translate(332.0 668.3) scale(0.9945 1)">17.2 °C</text>
<rect class="cbr" x="760.0" y="60.0" width="74.0" height="577.0" fill="url(#cb1)"/>
<line class="tk" x1="835.0" x2="850.0" y1="134.1" y2="134.1"/>
<text class="tl" transform="translate(859.0 140.5) scale(1.02 1)">50.0</text>
<line class="tk" x1="835.0" x2="850.0" y1="211.2" y2="211.2"/>
<text class="tl" transform="translate(859.0 217.6) scale(1.02 1)">45.0</text>
<line class="tk" x1="835.0" x2="850.0" y1="288.3" y2="288.3"/>
<text class="tl" transform="translate(859.0 294.7) scale(1.02 1)">40.0</text>
<line class="tk" x1="835.0" x2="850.0" y1="365.5" y2="365.5"/>
<text class="tl" transform="translate(859.0 371.9) scale(1.02 1)">35.0</text>
<line class="tk" x1="835.0" x2="850.0" y1="442.6" y2="442.6"/>
<text class="tl" transform="translate(859.0 449.0) scale(1.02 1)">30.0</text>
<line class="tk" x1="835.0" x2="850.0" y1="519.7" y2="519.7"/>
<text class="tl" transform="translate(859.0 526.1) scale(1.02 1)">25.0</text>
<line class="tk" x1="835.0" x2="850.0" y1="596.9" y2="596.9"/>
<text class="tl" transform="translate(859.0 603.3) scale(1.02 1)">20.0</text>
<text class="tl" transform="translate(743.0 46.3) scale(0.9945 1)">54.8 °C</text>
<text class="tl" transform="translate(742.0 668.3) scale(0.9945 1)">17.4 °C</text>
<rect class="cbr" x="1169.5" y="51.0" width="73.0" height="581.5" fill="url(#cb2)"/>
<line class="tk" x1="1243.5" x2="1258.5" y1="111.4" y2="111.4"/>
<text class="tl" transform="translate(1267.5 117.8) scale(1.02 1)">37.5</text>
<line class="tk" x1="1243.5" x2="1258.5" y1="174.3" y2="174.3"/>
<text class="tl" transform="translate(1267.5 180.7) scale(1.02 1)">35.0</text>
<line class="tk" x1="1243.5" x2="1258.5" y1="237.3" y2="237.3"/>
<text class="tl" transform="translate(1267.5 243.7) scale(1.02 1)">32.5</text>
<line class="tk" x1="1243.5" x2="1258.5" y1="300.2" y2="300.2"/>
<text class="tl" transform="translate(1267.5 306.6) scale(1.02 1)">30.0</text>
<line class="tk" x1="1243.5" x2="1258.5" y1="363.1" y2="363.1"/>
<text class="tl" transform="translate(1267.5 369.5) scale(1.02 1)">27.5</text>
<line class="tk" x1="1243.5" x2="1258.5" y1="426.1" y2="426.1"/>
<text class="tl" transform="translate(1267.5 432.5) scale(1.02 1)">25.0</text>
<line class="tk" x1="1243.5" x2="1258.5" y1="489.0" y2="489.0"/>
<text class="tl" transform="translate(1267.5 495.4) scale(1.02 1)">22.5</text>
<line class="tk" x1="1243.5" x2="1258.5" y1="551.9" y2="551.9"/>
<text class="tl" transform="translate(1267.5 558.3) scale(1.02 1)">20.0</text>
<line class="tk" x1="1243.5" x2="1258.5" y1="614.9" y2="614.9"/>
<text class="tl" transform="translate(1267.5 621.3) scale(1.02 1)">17.5</text>
<text class="tl" transform="translate(1150.0 35.3) scale(0.9945 1)">39.9 °C</text>
<text class="tl" transform="translate(1152.0 663.3) scale(0.9945 1)">16.8 °C</text>
<rect class="cbr" x="341.0" y="732.5" width="74.0" height="586.5" fill="url(#cb3)"/>
<line class="tk" x1="416.0" x2="431.0" y1="802.0" y2="802.0"/>
<text class="tl" transform="translate(440.0 808.4) scale(1.02 1)">30.0</text>
<line class="tk" x1="416.0" x2="431.0" y1="898.4" y2="898.4"/>
<text class="tl" transform="translate(440.0 904.8) scale(1.02 1)">27.5</text>
<line class="tk" x1="416.0" x2="431.0" y1="994.9" y2="994.9"/>
<text class="tl" transform="translate(440.0 1001.3) scale(1.02 1)">25.0</text>
<line class="tk" x1="416.0" x2="431.0" y1="1091.3" y2="1091.3"/>
<text class="tl" transform="translate(440.0 1097.7) scale(1.02 1)">22.5</text>
<line class="tk" x1="416.0" x2="431.0" y1="1187.8" y2="1187.8"/>
<text class="tl" transform="translate(440.0 1194.2) scale(1.02 1)">20.0</text>
<line class="tk" x1="416.0" x2="431.0" y1="1284.3" y2="1284.3"/>
<text class="tl" transform="translate(440.0 1290.7) scale(1.02 1)">17.5</text>
<text class="tl" transform="translate(324.0 717.3) scale(0.9945 1)">31.8 °C</text>
<text class="tl" transform="translate(324.0 1349.3) scale(0.9945 1)">16.6 °C</text>
<rect class="cbr" x="763.5" y="730.0" width="74.0" height="585.0" fill="url(#cb4)"/>
<line class="tk" x1="838.5" x2="853.5" y1="834.6" y2="834.6"/>
<text class="tl" transform="translate(862.5 841.0) scale(1.02 1)">27.5</text>
<line class="tk" x1="838.5" x2="853.5" y1="953.5" y2="953.5"/>
<text class="tl" transform="translate(862.5 959.9) scale(1.02 1)">25.0</text>
<line class="tk" x1="838.5" x2="853.5" y1="1072.4" y2="1072.4"/>
<text class="tl" transform="translate(862.5 1078.8) scale(1.02 1)">22.5</text>
<line class="tk" x1="838.5" x2="853.5" y1="1191.3" y2="1191.3"/>
<text class="tl" transform="translate(862.5 1197.7) scale(1.02 1)">20.0</text>
<line class="tk" x1="838.5" x2="853.5" y1="1310.2" y2="1310.2"/>
<text class="tl" transform="translate(862.5 1316.6) scale(1.02 1)">17.5</text>
<text class="tl" transform="translate(746.0 714.3) scale(0.9945 1)">29.7 °C</text>
<text class="tl" transform="translate(747.0 1346.3) scale(0.9945 1)">17.4 °C</text>
<rect class="cbr" x="1188.5" y="729.0" width="74.5" height="589.5" fill="url(#cb5)"/>
<line class="tk" x1="1264.0" x2="1279.0" y1="783.6" y2="783.6"/>
<text class="tl" transform="translate(1288.0 790.0) scale(1.02 1)">27.5</text>
<line class="tk" x1="1264.0" x2="1279.0" y1="920.0" y2="920.0"/>
<text class="tl" transform="translate(1288.0 926.4) scale(1.02 1)">25.0</text>
<line class="tk" x1="1264.0" x2="1279.0" y1="1056.5" y2="1056.5"/>
<text class="tl" transform="translate(1288.0 1062.9) scale(1.02 1)">22.5</text>
<line class="tk" x1="1264.0" x2="1279.0" y1="1193.0" y2="1193.0"/>
<text class="tl" transform="translate(1288.0 1199.4) scale(1.02 1)">20.0</text>
<text class="tl" transform="translate(1171.0 713.3) scale(0.9945 1)">28.5 °C</text>
<text class="tl" transform="translate(1171.0 1348.3) scale(0.9945 1)">17.7 °C</text>
</g>
<g filter="url(#soft)">
<text class="lb" x="41.0" y="82.0" text-anchor="start">(b)</text>
<text class="tm" x="204.8" y="357.5" text-anchor="middle">0min</text>
<text class="tm" x="617.0" y="351.5" text-anchor="middle">2min</text>
<text class="tm" x="1030.2" y="348.7" text-anchor="middle">4min</text>
<text class="tm" x="206.6" y="1040.7" text-anchor="middle">6min</text>
<text class="tm" x="623.5" y="1036.0" text-anchor="middle">8min</text>
<text class="tm" x="1048.8" y="1033.5" text-anchor="middle">10min</text>
<text class="wl" x="206.0" y="190.4" text-anchor="middle">PAP</text>
<text class="wl" x="194.7" y="514.6" text-anchor="middle">NOPAP</text>
</g>
</svg>
</body></html>
